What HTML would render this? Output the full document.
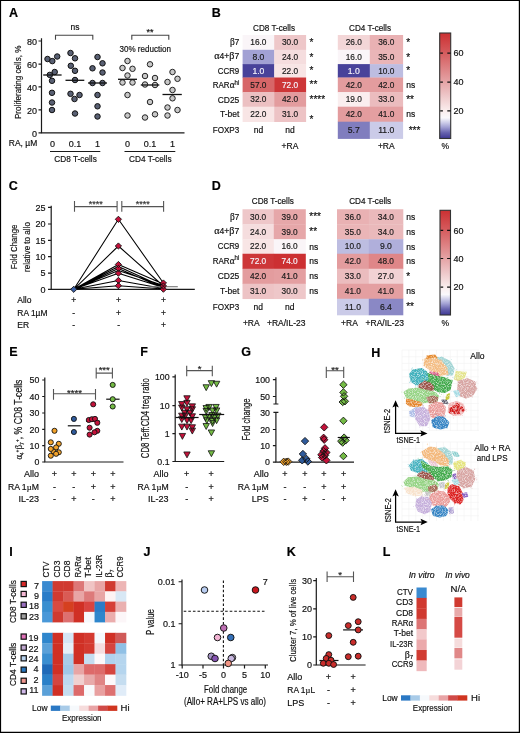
<!DOCTYPE html>
<html><head><meta charset="utf-8">
<style>
html,body{margin:0;padding:0;background:#fff;}
body{width:520px;height:733px;overflow:hidden;position:relative;}
svg{position:absolute;left:0;top:0;will-change:transform;}
text{font-family:"Liberation Sans",sans-serif;fill:#111;stroke:#111;stroke-width:0.18px;}
.ax{stroke:#1a1a1a;stroke-width:1.2;fill:none;}
.br{stroke:#444;stroke-width:1.1;fill:none;}
</style></head><body>
<svg width="520" height="733" viewBox="0 0 520 733">
<rect x="0" y="0" width="520" height="733" fill="#fff"/>
<g fill="#111">
<text x="9" y="17.2" font-size="12.5" style="fill:#000;stroke:#000" font-weight="bold">A</text>
<path class="ax" d="M41.5,38.3 V132.9 H184.5"/>
<path class="ax" d="M38.5,41 H41.5 M38.5,64.1 H41.5 M38.5,86.9 H41.5 M38.5,109.8 H41.5 M38.5,132.9 H41.5"/>
<text x="37.1" y="44.9" font-size="9" text-anchor="end">80</text>
<text x="37.1" y="68.0" font-size="9" text-anchor="end">60</text>
<text x="37.1" y="90.80000000000001" font-size="9" text-anchor="end">40</text>
<text x="37.1" y="113.7" font-size="9" text-anchor="end">20</text>
<text x="37.1" y="136.8" font-size="9" text-anchor="end">0</text>
<text x="0" y="0" font-size="9.3" text-anchor="middle" textLength="73.5" lengthAdjust="spacingAndGlyphs" transform="translate(20.7,82.3) rotate(-90)">Proliferating cells, %</text>
<path class="br" d="M55.5,39.7 V35.2 H92.8 V39.7"/>
<text x="75" y="30" font-size="8.5" text-anchor="middle">ns</text>
<path class="br" d="M131.8,39.7 V35.2 H168.8 V39.7"/>
<text x="150" y="34.8" font-size="9" text-anchor="middle">**</text>
<text x="145.2" y="52.2" font-size="8.5" text-anchor="middle" textLength="51.5" lengthAdjust="spacingAndGlyphs">30% reduction</text>
<g fill="#596073" stroke="#111" stroke-width="1"><circle cx="47.5" cy="59" r="2.75"/><circle cx="52.3" cy="61.1" r="2.75"/><circle cx="57.2" cy="56.5" r="2.75"/><circle cx="54.7" cy="72" r="2.75"/><circle cx="49.8" cy="74.9" r="2.75"/><circle cx="52" cy="80.8" r="2.75"/><circle cx="52" cy="92.8" r="2.75"/><circle cx="52" cy="102.5" r="2.75"/><circle cx="52" cy="110" r="2.75"/><circle cx="70.5" cy="53" r="2.75"/><circle cx="75" cy="58.3" r="2.75"/><circle cx="70.8" cy="65.8" r="2.75"/><circle cx="75" cy="70.8" r="2.75"/><circle cx="75" cy="80" r="2.75"/><circle cx="70.5" cy="93.8" r="2.75"/><circle cx="79.5" cy="95" r="2.75"/><circle cx="74.5" cy="99" r="2.75"/><circle cx="75" cy="113.5" r="2.75"/><circle cx="97.5" cy="57" r="2.75"/><circle cx="102.5" cy="63.3" r="2.75"/><circle cx="92.5" cy="68.3" r="2.75"/><circle cx="102.5" cy="72.5" r="2.75"/><circle cx="92.5" cy="83" r="2.75"/><circle cx="102.5" cy="83" r="2.75"/><circle cx="97.5" cy="95" r="2.75"/><circle cx="97.5" cy="106.3" r="2.75"/><circle cx="97.5" cy="116.5" r="2.75"/></g>
<g fill="#c8c8c8" stroke="#222" stroke-width="1"><circle cx="127.5" cy="61" r="2.75"/><circle cx="122.5" cy="68" r="2.75"/><circle cx="132.5" cy="68.8" r="2.75"/><circle cx="127.5" cy="75.5" r="2.75"/><circle cx="122.5" cy="82.5" r="2.75"/><circle cx="132.5" cy="82.5" r="2.75"/><circle cx="127.5" cy="95" r="2.75"/><circle cx="127.5" cy="115.5" r="2.75"/><circle cx="150" cy="64.3" r="2.75"/><circle cx="145" cy="76" r="2.75"/><circle cx="155" cy="78" r="2.75"/><circle cx="145" cy="84.5" r="2.75"/><circle cx="155" cy="85" r="2.75"/><circle cx="150" cy="102" r="2.75"/><circle cx="145" cy="117.5" r="2.75"/><circle cx="155" cy="114.3" r="2.75"/><circle cx="172.5" cy="72" r="2.75"/><circle cx="177.5" cy="78.8" r="2.75"/><circle cx="167.5" cy="82" r="2.75"/><circle cx="172.5" cy="90" r="2.75"/><circle cx="172.5" cy="98.3" r="2.75"/><circle cx="167.5" cy="107.5" r="2.75"/><circle cx="177.5" cy="110" r="2.75"/><circle cx="167.5" cy="115.5" r="2.75"/></g>
<g stroke="#111" stroke-width="1.3"><line x1="43.2" y1="75" x2="61.6" y2="75"/><line x1="65.5" y1="80.3" x2="84.3" y2="80.3"/><line x1="88" y1="83" x2="107" y2="83"/><line x1="118" y1="79.3" x2="137" y2="79.3"/><line x1="140.8" y1="85" x2="159.3" y2="85"/><line x1="162.5" y1="94.5" x2="181.8" y2="94.5"/></g>
<text x="8.8" y="146.4" font-size="8.5" textLength="28.4" lengthAdjust="spacingAndGlyphs">RA, µM</text>
<text x="52.5" y="146.5" font-size="9" text-anchor="middle">0</text>
<text x="75" y="146.5" font-size="9" text-anchor="middle">0.1</text>
<text x="97.5" y="146.5" font-size="9" text-anchor="middle">1</text>
<text x="127.5" y="146.5" font-size="9" text-anchor="middle">0</text>
<text x="150" y="146.5" font-size="9" text-anchor="middle">0.1</text>
<text x="172.5" y="146.5" font-size="9" text-anchor="middle">1</text>
<path class="ax" d="M50,151.5 H100.3 M124.5,151.5 H175.3"/>
<text x="75.6" y="162.3" font-size="9" text-anchor="middle" textLength="42.5" lengthAdjust="spacingAndGlyphs">CD8 T-cells</text>
<text x="150.3" y="162.3" font-size="9" text-anchor="middle" textLength="42.5" lengthAdjust="spacingAndGlyphs">CD4 T-cells</text>
<text x="211.8" y="17.2" font-size="12.5" style="fill:#000;stroke:#000" font-weight="bold">B</text>
<text x="239.3" y="45.3" font-size="8.5" text-anchor="end" textLength="9.3" lengthAdjust="spacingAndGlyphs"><tspan font-family="Liberation Serif" font-size="10">β</tspan>7</text>
<text x="239.3" y="59.1" font-size="8.5" text-anchor="end" textLength="25" lengthAdjust="spacingAndGlyphs"><tspan font-family="Liberation Serif" font-size="10">α</tspan>4+<tspan font-family="Liberation Serif" font-size="10">β</tspan>7</text>
<text x="239.3" y="74.0" font-size="8.5" text-anchor="end" textLength="21.6" lengthAdjust="spacingAndGlyphs">CCR9</text>
<text x="239.3" y="88.1" font-size="8.5" text-anchor="end" textLength="26.5" lengthAdjust="spacingAndGlyphs">RAR<tspan font-family="Liberation Serif" font-size="10">α</tspan><tspan font-size="6.5" dy="-3.6">hi</tspan></text>
<text x="239.3" y="103.1" font-size="8.5" text-anchor="end" textLength="21.6" lengthAdjust="spacingAndGlyphs">CD25</text>
<text x="239.3" y="117.3" font-size="8.5" text-anchor="end" textLength="19.3" lengthAdjust="spacingAndGlyphs">T-bet</text>
<text x="239.3" y="132.5" font-size="8.5" text-anchor="end" textLength="26.6" lengthAdjust="spacingAndGlyphs">FOXP3</text>
<text x="274" y="30.5" font-size="8.5" text-anchor="middle" textLength="42" lengthAdjust="spacingAndGlyphs">CD8 T-cells</text>
<text x="370" y="30.5" font-size="8.5" text-anchor="middle" textLength="42" lengthAdjust="spacingAndGlyphs">CD4 T-cells</text>
<rect x="242.6" y="35" width="31.90" height="15.10" fill="#faf5f8"/>
<rect x="274.2" y="35" width="31.90" height="15.10" fill="#eec7c9"/>
<rect x="242.6" y="49.8" width="31.90" height="14.60" fill="#a2a1d4"/>
<rect x="274.2" y="49.8" width="31.90" height="14.60" fill="#f5ddde"/>
<rect x="242.6" y="64.1" width="31.90" height="13.70" fill="#48429a"/>
<rect x="274.2" y="64.1" width="31.90" height="13.70" fill="#f8e5e5"/>
<rect x="242.6" y="77.5" width="31.90" height="14.90" fill="#d76668"/>
<rect x="274.2" y="77.5" width="31.90" height="14.90" fill="#cd3638"/>
<rect x="242.6" y="92.1" width="31.90" height="14.90" fill="#ecc0c2"/>
<rect x="274.2" y="92.1" width="31.90" height="14.90" fill="#e39c9e"/>
<rect x="242.6" y="106.7" width="31.90" height="15.30" fill="#f8e5e5"/>
<rect x="274.2" y="106.7" width="31.90" height="15.30" fill="#edc3c5"/>
<text x="258.4" y="133.05" font-size="8.5" text-anchor="middle">nd</text>
<text x="290.0" y="133.05" font-size="8.5" text-anchor="middle">nd</text>
<text x="258.4" y="45.3" font-size="9" text-anchor="middle" style="fill:#1a1a1a;stroke:#1a1a1a" textLength="16.2" lengthAdjust="spacingAndGlyphs">16.0</text>
<text x="290.0" y="45.3" font-size="9" text-anchor="middle" style="fill:#1a1a1a;stroke:#1a1a1a" textLength="16.2" lengthAdjust="spacingAndGlyphs">30.0</text>
<text x="258.4" y="59.849999999999994" font-size="9" text-anchor="middle" style="fill:#1a1a1a;stroke:#1a1a1a" textLength="12.0" lengthAdjust="spacingAndGlyphs">8.0</text>
<text x="290.0" y="59.849999999999994" font-size="9" text-anchor="middle" style="fill:#1a1a1a;stroke:#1a1a1a" textLength="16.2" lengthAdjust="spacingAndGlyphs">24.0</text>
<text x="258.4" y="73.7" font-size="9" text-anchor="middle" style="fill:#f4f2fa;stroke:#f4f2fa" textLength="12.0" lengthAdjust="spacingAndGlyphs">1.0</text>
<text x="290.0" y="73.7" font-size="9" text-anchor="middle" style="fill:#1a1a1a;stroke:#1a1a1a" textLength="16.2" lengthAdjust="spacingAndGlyphs">22.0</text>
<text x="258.4" y="87.7" font-size="9" text-anchor="middle" style="fill:#1a1a1a;stroke:#1a1a1a" textLength="16.2" lengthAdjust="spacingAndGlyphs">57.0</text>
<text x="290.0" y="87.7" font-size="9" text-anchor="middle" style="fill:#f4f2fa;stroke:#f4f2fa" textLength="16.2" lengthAdjust="spacingAndGlyphs">72.0</text>
<text x="258.4" y="102.30000000000001" font-size="9" text-anchor="middle" style="fill:#1a1a1a;stroke:#1a1a1a" textLength="16.2" lengthAdjust="spacingAndGlyphs">32.0</text>
<text x="290.0" y="102.30000000000001" font-size="9" text-anchor="middle" style="fill:#1a1a1a;stroke:#1a1a1a" textLength="16.2" lengthAdjust="spacingAndGlyphs">42.0</text>
<text x="258.4" y="117.10000000000001" font-size="9" text-anchor="middle" style="fill:#1a1a1a;stroke:#1a1a1a" textLength="16.2" lengthAdjust="spacingAndGlyphs">22.0</text>
<text x="290.0" y="117.10000000000001" font-size="9" text-anchor="middle" style="fill:#1a1a1a;stroke:#1a1a1a" textLength="16.2" lengthAdjust="spacingAndGlyphs">31.0</text>
<text x="309.5" y="46.0" font-size="10">*</text>
<text x="309.5" y="60.55" font-size="10">*</text>
<text x="309.5" y="74.39999999999999" font-size="10">*</text>
<text x="309.5" y="88.39999999999999" font-size="10">**</text>
<text x="309.5" y="103.0" font-size="10">****</text>
<text x="309.5" y="123.2" font-size="10">*</text>
<rect x="337.8" y="35" width="32.30" height="15.10" fill="#f3d6d7"/>
<rect x="369.8" y="35" width="33.30" height="15.10" fill="#e9b1b3"/>
<rect x="337.8" y="49.8" width="32.30" height="14.60" fill="#faf5f8"/>
<rect x="369.8" y="49.8" width="33.30" height="14.60" fill="#eab5b7"/>
<rect x="337.8" y="64.1" width="32.30" height="13.70" fill="#48429a"/>
<rect x="369.8" y="64.1" width="33.30" height="13.70" fill="#bdbde1"/>
<rect x="337.8" y="77.5" width="32.30" height="14.90" fill="#e39c9e"/>
<rect x="369.8" y="77.5" width="33.30" height="14.90" fill="#e39c9e"/>
<rect x="337.8" y="92.1" width="32.30" height="14.90" fill="#faeeef"/>
<rect x="369.8" y="92.1" width="33.30" height="14.90" fill="#ebbcbe"/>
<rect x="337.8" y="106.7" width="32.30" height="15.30" fill="#e39c9e"/>
<rect x="369.8" y="106.7" width="33.30" height="15.30" fill="#e49fa1"/>
<rect x="337.8" y="121.7" width="32.30" height="17.20" fill="#807dbe"/>
<rect x="369.8" y="121.7" width="33.30" height="17.20" fill="#cbcbe8"/>
<text x="353.8" y="45.3" font-size="9" text-anchor="middle" style="fill:#1a1a1a;stroke:#1a1a1a" textLength="16.2" lengthAdjust="spacingAndGlyphs">26.0</text>
<text x="386.3" y="45.3" font-size="9" text-anchor="middle" style="fill:#1a1a1a;stroke:#1a1a1a" textLength="16.2" lengthAdjust="spacingAndGlyphs">36.0</text>
<text x="353.8" y="59.849999999999994" font-size="9" text-anchor="middle" style="fill:#1a1a1a;stroke:#1a1a1a" textLength="16.2" lengthAdjust="spacingAndGlyphs">16.0</text>
<text x="386.3" y="59.849999999999994" font-size="9" text-anchor="middle" style="fill:#1a1a1a;stroke:#1a1a1a" textLength="16.2" lengthAdjust="spacingAndGlyphs">35.0</text>
<text x="353.8" y="73.7" font-size="9" text-anchor="middle" style="fill:#f4f2fa;stroke:#f4f2fa" textLength="12.0" lengthAdjust="spacingAndGlyphs">1.0</text>
<text x="386.3" y="73.7" font-size="9" text-anchor="middle" style="fill:#1a1a1a;stroke:#1a1a1a" textLength="16.2" lengthAdjust="spacingAndGlyphs">10.0</text>
<text x="353.8" y="87.7" font-size="9" text-anchor="middle" style="fill:#1a1a1a;stroke:#1a1a1a" textLength="16.2" lengthAdjust="spacingAndGlyphs">42.0</text>
<text x="386.3" y="87.7" font-size="9" text-anchor="middle" style="fill:#1a1a1a;stroke:#1a1a1a" textLength="16.2" lengthAdjust="spacingAndGlyphs">42.0</text>
<text x="353.8" y="102.30000000000001" font-size="9" text-anchor="middle" style="fill:#1a1a1a;stroke:#1a1a1a" textLength="16.2" lengthAdjust="spacingAndGlyphs">19.0</text>
<text x="386.3" y="102.30000000000001" font-size="9" text-anchor="middle" style="fill:#1a1a1a;stroke:#1a1a1a" textLength="16.2" lengthAdjust="spacingAndGlyphs">33.0</text>
<text x="353.8" y="117.10000000000001" font-size="9" text-anchor="middle" style="fill:#1a1a1a;stroke:#1a1a1a" textLength="16.2" lengthAdjust="spacingAndGlyphs">42.0</text>
<text x="386.3" y="117.10000000000001" font-size="9" text-anchor="middle" style="fill:#1a1a1a;stroke:#1a1a1a" textLength="16.2" lengthAdjust="spacingAndGlyphs">41.0</text>
<text x="353.8" y="133.05" font-size="9" text-anchor="middle" style="fill:#1a1a1a;stroke:#1a1a1a" textLength="12.0" lengthAdjust="spacingAndGlyphs">5.7</text>
<text x="386.3" y="133.05" font-size="9" text-anchor="middle" style="fill:#1a1a1a;stroke:#1a1a1a" textLength="16.2" lengthAdjust="spacingAndGlyphs">11.0</text>
<text x="406.2" y="46.0" font-size="10">*</text>
<text x="406.2" y="60.55" font-size="10">*</text>
<text x="406.2" y="74.39999999999999" font-size="10">*</text>
<text x="406.2" y="87.8" font-size="8.5">ns</text>
<text x="406.2" y="103.0" font-size="10">**</text>
<text x="406.2" y="117.2" font-size="8.5">ns</text>
<text x="408.7" y="133.6" font-size="10">***</text>
<text x="290" y="149" font-size="8.5" text-anchor="middle">+RA</text>
<text x="386.3" y="149" font-size="8.5" text-anchor="middle">+RA</text>
<defs><linearGradient id="gB" x1="0" y1="1" x2="0" y2="0"><stop offset="0.0000" stop-color="#3e3894"/><stop offset="0.0541" stop-color="#6662ae"/><stop offset="0.1081" stop-color="#a2a1d4"/><stop offset="0.1486" stop-color="#cbcbe8"/><stop offset="0.1959" stop-color="#faf9fc"/><stop offset="0.2703" stop-color="#faecec"/><stop offset="0.4054" stop-color="#eec7c9"/><stop offset="0.5405" stop-color="#e5a3a5"/><stop offset="0.6757" stop-color="#dd7f81"/><stop offset="0.8108" stop-color="#d55c5e"/><stop offset="1.0000" stop-color="#cc3032"/></linearGradient></defs>
<rect x="439.7" y="33" width="11.0" height="105.5" fill="url(#gB)" stroke="#333" stroke-width="1.1"/>
<path d="M440.2,53.2 H442.9 M447.3,53.2 H450.7" stroke="#111" stroke-width="1.2"/>
<text x="453.59999999999997" y="56.400000000000006" font-size="9">60</text>
<path d="M440.2,82.1 H442.9 M447.3,82.1 H450.7" stroke="#111" stroke-width="1.2"/>
<text x="453.59999999999997" y="85.3" font-size="9">40</text>
<path d="M440.2,110.8 H442.9 M447.3,110.8 H450.7" stroke="#111" stroke-width="1.2"/>
<text x="453.59999999999997" y="114.0" font-size="9">20</text>
<text x="445.2" y="149" font-size="8.5" text-anchor="middle">%</text>
<text x="8.8" y="190.2" font-size="12.5" style="fill:#000;stroke:#000" font-weight="bold">C</text>
<path class="ax" d="M51.2,205.8 V289.4 H194.8"/>
<path class="ax" d="M48,207.4 H51.2 M48,224 H51.2 M48,240.4 H51.2 M48,256.7 H51.2 M48,273.2 H51.2 M48,289.4 H51.2"/>
<text x="45.5" y="210.6" font-size="9" text-anchor="end">25</text>
<text x="45.5" y="227.2" font-size="9" text-anchor="end">20</text>
<text x="45.5" y="243.6" font-size="9" text-anchor="end">15</text>
<text x="45.5" y="259.9" font-size="9" text-anchor="end">10</text>
<text x="45.5" y="276.4" font-size="9" text-anchor="end">5</text>
<text x="45.5" y="292.59999999999997" font-size="9" text-anchor="end">0</text>
<text x="0" y="0" font-size="9.3" text-anchor="middle" textLength="44.7" lengthAdjust="spacingAndGlyphs" transform="translate(17.0,247) rotate(-90)">Fold Change</text>
<text x="0" y="0" font-size="9.3" text-anchor="middle" textLength="49.9" lengthAdjust="spacingAndGlyphs" transform="translate(30.0,247) rotate(-90)">relative to allo</text>
<path d="M74.5,206.6 H117.1 M74.5,201.1 V211.8 M117.1,201.1 V211.8 M121.8,206.6 H163.6 M121.8,201.1 V211.8 M163.6,201.1 V211.8" stroke="#555" stroke-width="1.1" fill="none"/>
<text x="95.7" y="207.2" font-size="9" text-anchor="middle" style="fill:#333;stroke:#333">****</text>
<text x="142.8" y="207.2" font-size="9" text-anchor="middle" style="fill:#333;stroke:#333">****</text>
<path d="M73.75,289.3 L118.4,219.3 L163.4,283 M73.75,289.3 L118.4,246 L163.4,286 M73.75,289.3 L118.4,264.5 L163.4,284 M73.75,289.3 L118.4,266.5 L163.4,287 M73.75,289.3 L118.4,268.4 L163.4,288 M73.75,289.3 L118.4,270.5 L163.4,285.5 M73.75,289.3 L118.4,273.2 L163.4,287.5 M73.75,289.3 L118.4,280.4 L163.4,288.5 M73.75,289.3 L118.4,285.7 L163.4,289" stroke="#000" stroke-width="1.05" fill="none" stroke-linejoin="round"/>
<line x1="149" y1="286.7" x2="177.8" y2="286.7" stroke="#777" stroke-width="1.1"/>
<path d="M73.75,286.2 L76.85,289.3 L73.75,292.40000000000003 L70.65,289.3 Z" fill="#3d62a8" stroke="#111" stroke-width="0.9"/>
<path d="M118.4,216.20000000000002 L121.5,219.3 L118.4,222.4 L115.30000000000001,219.3 Z M118.4,242.9 L121.5,246 L118.4,249.1 L115.30000000000001,246 Z M118.4,261.4 L121.5,264.5 L118.4,267.6 L115.30000000000001,264.5 Z M118.4,265.29999999999995 L121.5,268.4 L118.4,271.5 L115.30000000000001,268.4 Z M118.4,270.09999999999997 L121.5,273.2 L118.4,276.3 L115.30000000000001,273.2 Z M118.4,277.29999999999995 L121.5,280.4 L118.4,283.5 L115.30000000000001,280.4 Z M118.4,282.59999999999997 L121.5,285.7 L118.4,288.8 L115.30000000000001,285.7 Z M163.4,279.9 L166.5,283 L163.4,286.1 L160.3,283 Z M163.4,282.9 L166.5,286 L163.4,289.1 L160.3,286 Z M163.4,286.09999999999997 L166.5,289.2 L163.4,292.3 L160.3,289.2 Z" fill="#c4103a" stroke="#111" stroke-width="0.9"/>
<text x="17.3" y="303.4" font-size="8.5">Allo</text>
<text x="17.3" y="315.6" font-size="8.5" textLength="30.2" lengthAdjust="spacingAndGlyphs">RA 1µM</text>
<text x="17.3" y="327.8" font-size="8.5">ER</text>
<text x="73.75" y="303.4" font-size="8.5" text-anchor="middle">+</text>
<text x="118.6" y="303.4" font-size="8.5" text-anchor="middle">+</text>
<text x="163.4" y="303.4" font-size="8.5" text-anchor="middle">+</text>
<text x="73.75" y="315.6" font-size="8.5" text-anchor="middle">-</text>
<text x="118.6" y="315.6" font-size="8.5" text-anchor="middle">+</text>
<text x="163.4" y="315.6" font-size="8.5" text-anchor="middle">+</text>
<text x="73.75" y="327.8" font-size="8.5" text-anchor="middle">-</text>
<text x="118.6" y="327.8" font-size="8.5" text-anchor="middle">-</text>
<text x="163.4" y="327.8" font-size="8.5" text-anchor="middle">+</text>
<text x="211.8" y="190.2" font-size="12.5" style="fill:#000;stroke:#000" font-weight="bold">D</text>
<text x="239.3" y="219.5" font-size="8.5" text-anchor="end" textLength="9.3" lengthAdjust="spacingAndGlyphs"><tspan font-family="Liberation Serif" font-size="10">β</tspan>7</text>
<text x="239.3" y="233.75" font-size="8.5" text-anchor="end" textLength="25" lengthAdjust="spacingAndGlyphs"><tspan font-family="Liberation Serif" font-size="10">α</tspan>4+<tspan font-family="Liberation Serif" font-size="10">β</tspan>7</text>
<text x="239.3" y="248.75" font-size="8.5" text-anchor="end" textLength="21.6" lengthAdjust="spacingAndGlyphs">CCR9</text>
<text x="239.3" y="263.75" font-size="8.5" text-anchor="end" textLength="26.5" lengthAdjust="spacingAndGlyphs">RAR<tspan font-family="Liberation Serif" font-size="10">α</tspan><tspan font-size="6.5" dy="-3.6">hi</tspan></text>
<text x="239.3" y="278.75" font-size="8.5" text-anchor="end" textLength="21.6" lengthAdjust="spacingAndGlyphs">CD25</text>
<text x="239.3" y="293.75" font-size="8.5" text-anchor="end" textLength="19.3" lengthAdjust="spacingAndGlyphs">T-bet</text>
<text x="239.3" y="309.6" font-size="8.5" text-anchor="end" textLength="26.6" lengthAdjust="spacingAndGlyphs">FOXP3</text>
<text x="272.8" y="204" font-size="8.5" text-anchor="middle" textLength="42" lengthAdjust="spacingAndGlyphs">CD8 T-cells</text>
<text x="370.2" y="204" font-size="8.5" text-anchor="middle" textLength="42" lengthAdjust="spacingAndGlyphs">CD4 T-cells</text>
<rect x="242.5" y="209.25" width="31.60" height="15.30" fill="#eec7c9"/>
<rect x="273.8" y="209.25" width="32.00" height="15.30" fill="#e6a7a9"/>
<rect x="242.5" y="224.25" width="31.60" height="15.30" fill="#f5ddde"/>
<rect x="273.8" y="224.25" width="32.00" height="15.30" fill="#e6a7a9"/>
<rect x="242.5" y="239.25" width="31.60" height="14.80" fill="#f8e5e5"/>
<rect x="273.8" y="239.25" width="32.00" height="14.80" fill="#faf5f8"/>
<rect x="242.5" y="253.75" width="31.60" height="15.30" fill="#cd3638"/>
<rect x="273.8" y="253.75" width="32.00" height="15.30" fill="#cc3032"/>
<rect x="242.5" y="268.75" width="31.60" height="15.30" fill="#e39c9e"/>
<rect x="273.8" y="268.75" width="32.00" height="15.30" fill="#e49fa1"/>
<rect x="242.5" y="283.75" width="31.60" height="15.30" fill="#edc3c5"/>
<rect x="273.8" y="283.75" width="32.00" height="15.30" fill="#eec7c9"/>
<text x="258.15" y="309.775" font-size="8.5" text-anchor="middle">nd</text>
<text x="289.65" y="309.775" font-size="8.5" text-anchor="middle">nd</text>
<text x="258.15" y="219.65" font-size="9" text-anchor="middle" style="fill:#1a1a1a;stroke:#1a1a1a" textLength="16.2" lengthAdjust="spacingAndGlyphs">30.0</text>
<text x="289.65" y="219.65" font-size="9" text-anchor="middle" style="fill:#1a1a1a;stroke:#1a1a1a" textLength="16.2" lengthAdjust="spacingAndGlyphs">39.0</text>
<text x="258.15" y="234.65" font-size="9" text-anchor="middle" style="fill:#1a1a1a;stroke:#1a1a1a" textLength="16.2" lengthAdjust="spacingAndGlyphs">24.0</text>
<text x="289.65" y="234.65" font-size="9" text-anchor="middle" style="fill:#1a1a1a;stroke:#1a1a1a" textLength="16.2" lengthAdjust="spacingAndGlyphs">39.0</text>
<text x="258.15" y="249.4" font-size="9" text-anchor="middle" style="fill:#1a1a1a;stroke:#1a1a1a" textLength="16.2" lengthAdjust="spacingAndGlyphs">22.0</text>
<text x="289.65" y="249.4" font-size="9" text-anchor="middle" style="fill:#1a1a1a;stroke:#1a1a1a" textLength="16.2" lengthAdjust="spacingAndGlyphs">16.0</text>
<text x="258.15" y="264.15" font-size="9" text-anchor="middle" style="fill:#f4f2fa;stroke:#f4f2fa" textLength="16.2" lengthAdjust="spacingAndGlyphs">72.0</text>
<text x="289.65" y="264.15" font-size="9" text-anchor="middle" style="fill:#f4f2fa;stroke:#f4f2fa" textLength="16.2" lengthAdjust="spacingAndGlyphs">74.0</text>
<text x="258.15" y="279.15" font-size="9" text-anchor="middle" style="fill:#1a1a1a;stroke:#1a1a1a" textLength="16.2" lengthAdjust="spacingAndGlyphs">42.0</text>
<text x="289.65" y="279.15" font-size="9" text-anchor="middle" style="fill:#1a1a1a;stroke:#1a1a1a" textLength="16.2" lengthAdjust="spacingAndGlyphs">41.0</text>
<text x="258.15" y="294.15" font-size="9" text-anchor="middle" style="fill:#1a1a1a;stroke:#1a1a1a" textLength="16.2" lengthAdjust="spacingAndGlyphs">31.0</text>
<text x="289.65" y="294.15" font-size="9" text-anchor="middle" style="fill:#1a1a1a;stroke:#1a1a1a" textLength="16.2" lengthAdjust="spacingAndGlyphs">30.0</text>
<text x="309.3" y="220.35" font-size="10">***</text>
<text x="309.3" y="235.35" font-size="10">**</text>
<text x="309.3" y="249.5" font-size="8.5">ns</text>
<text x="309.3" y="264.25" font-size="8.5">ns</text>
<text x="309.3" y="279.25" font-size="8.5">ns</text>
<text x="309.3" y="294.25" font-size="8.5">ns</text>
<rect x="337" y="209.25" width="32.10" height="15.30" fill="#e9b1b3"/>
<rect x="368.8" y="209.25" width="34.50" height="15.30" fill="#eab9bb"/>
<rect x="337" y="224.25" width="32.10" height="15.30" fill="#eab5b7"/>
<rect x="368.8" y="224.25" width="34.50" height="15.30" fill="#eab9bb"/>
<rect x="337" y="239.25" width="32.10" height="14.80" fill="#bdbde1"/>
<rect x="368.8" y="239.25" width="34.50" height="14.80" fill="#b0afdb"/>
<rect x="337" y="253.75" width="32.10" height="15.30" fill="#e39c9e"/>
<rect x="368.8" y="253.75" width="34.50" height="15.30" fill="#df8688"/>
<rect x="337" y="268.75" width="32.10" height="15.30" fill="#ebbcbe"/>
<rect x="368.8" y="268.75" width="34.50" height="15.30" fill="#f2d2d4"/>
<rect x="337" y="283.75" width="32.10" height="15.30" fill="#e49fa1"/>
<rect x="368.8" y="283.75" width="34.50" height="15.30" fill="#e49fa1"/>
<rect x="337" y="298.75" width="32.10" height="16.55" fill="#cbcbe8"/>
<rect x="368.8" y="298.75" width="34.50" height="16.55" fill="#8a88c5"/>
<text x="352.9" y="219.65" font-size="9" text-anchor="middle" style="fill:#1a1a1a;stroke:#1a1a1a" textLength="16.2" lengthAdjust="spacingAndGlyphs">36.0</text>
<text x="385.9" y="219.65" font-size="9" text-anchor="middle" style="fill:#1a1a1a;stroke:#1a1a1a" textLength="16.2" lengthAdjust="spacingAndGlyphs">34.0</text>
<text x="352.9" y="234.65" font-size="9" text-anchor="middle" style="fill:#1a1a1a;stroke:#1a1a1a" textLength="16.2" lengthAdjust="spacingAndGlyphs">35.0</text>
<text x="385.9" y="234.65" font-size="9" text-anchor="middle" style="fill:#1a1a1a;stroke:#1a1a1a" textLength="16.2" lengthAdjust="spacingAndGlyphs">34.0</text>
<text x="352.9" y="249.4" font-size="9" text-anchor="middle" style="fill:#1a1a1a;stroke:#1a1a1a" textLength="16.2" lengthAdjust="spacingAndGlyphs">10.0</text>
<text x="385.9" y="249.4" font-size="9" text-anchor="middle" style="fill:#1a1a1a;stroke:#1a1a1a" textLength="12.0" lengthAdjust="spacingAndGlyphs">9.0</text>
<text x="352.9" y="264.15" font-size="9" text-anchor="middle" style="fill:#1a1a1a;stroke:#1a1a1a" textLength="16.2" lengthAdjust="spacingAndGlyphs">42.0</text>
<text x="385.9" y="264.15" font-size="9" text-anchor="middle" style="fill:#1a1a1a;stroke:#1a1a1a" textLength="16.2" lengthAdjust="spacingAndGlyphs">48.0</text>
<text x="352.9" y="279.15" font-size="9" text-anchor="middle" style="fill:#1a1a1a;stroke:#1a1a1a" textLength="16.2" lengthAdjust="spacingAndGlyphs">33.0</text>
<text x="385.9" y="279.15" font-size="9" text-anchor="middle" style="fill:#1a1a1a;stroke:#1a1a1a" textLength="16.2" lengthAdjust="spacingAndGlyphs">27.0</text>
<text x="352.9" y="294.15" font-size="9" text-anchor="middle" style="fill:#1a1a1a;stroke:#1a1a1a" textLength="16.2" lengthAdjust="spacingAndGlyphs">41.0</text>
<text x="385.9" y="294.15" font-size="9" text-anchor="middle" style="fill:#1a1a1a;stroke:#1a1a1a" textLength="16.2" lengthAdjust="spacingAndGlyphs">41.0</text>
<text x="352.9" y="309.775" font-size="9" text-anchor="middle" style="fill:#1a1a1a;stroke:#1a1a1a" textLength="16.2" lengthAdjust="spacingAndGlyphs">11.0</text>
<text x="385.9" y="309.775" font-size="9" text-anchor="middle" style="fill:#1a1a1a;stroke:#1a1a1a" textLength="12.0" lengthAdjust="spacingAndGlyphs">6.4</text>
<text x="406.2" y="219.75" font-size="8.5">ns</text>
<text x="406.2" y="234.75" font-size="8.5">ns</text>
<text x="406.2" y="249.5" font-size="8.5">ns</text>
<text x="406.2" y="264.25" font-size="8.5">ns</text>
<text x="406.2" y="279.85" font-size="10">*</text>
<text x="406.2" y="294.25" font-size="8.5">ns</text>
<text x="406.2" y="310.475" font-size="10">**</text>
<text x="251.3" y="325.8" font-size="8.5" text-anchor="middle">+RA</text>
<text x="286.2" y="325.8" font-size="8.5" text-anchor="middle">+RA/IL-23</text>
<text x="349.5" y="325.8" font-size="8.5" text-anchor="middle">+RA</text>
<text x="384.8" y="325.8" font-size="8.5" text-anchor="middle">+RA/IL-23</text>
<defs><linearGradient id="gD" x1="0" y1="1" x2="0" y2="0"><stop offset="0.0000" stop-color="#3e3894"/><stop offset="0.0541" stop-color="#6662ae"/><stop offset="0.1081" stop-color="#a2a1d4"/><stop offset="0.1486" stop-color="#cbcbe8"/><stop offset="0.1959" stop-color="#faf9fc"/><stop offset="0.2703" stop-color="#faecec"/><stop offset="0.4054" stop-color="#eec7c9"/><stop offset="0.5405" stop-color="#e5a3a5"/><stop offset="0.6757" stop-color="#dd7f81"/><stop offset="0.8108" stop-color="#d55c5e"/><stop offset="1.0000" stop-color="#cc3032"/></linearGradient></defs>
<rect x="440" y="210.3" width="10.5" height="104.69999999999999" fill="url(#gD)" stroke="#333" stroke-width="1.1"/>
<path d="M440.5,230.4 H443.2 M447.1,230.4 H450.5" stroke="#111" stroke-width="1.2"/>
<text x="453.4" y="233.6" font-size="9">60</text>
<path d="M440.5,258.5 H443.2 M447.1,258.5 H450.5" stroke="#111" stroke-width="1.2"/>
<text x="453.4" y="261.7" font-size="9">40</text>
<path d="M440.5,287.1 H443.2 M447.1,287.1 H450.5" stroke="#111" stroke-width="1.2"/>
<text x="453.4" y="290.3" font-size="9">20</text>
<text x="445.2" y="325.6" font-size="8.5" text-anchor="middle">%</text>
<text x="9.3" y="356.4" font-size="12.5" style="fill:#000;stroke:#000" font-weight="bold">E</text>
<path class="ax" d="M44.8,377.6 V462 H123.5"/>
<path class="ax" d="M42.2,380 H44.8 M42.2,396.5 H44.8 M42.2,413 H44.8 M42.2,429.4 H44.8 M42.2,445.6 H44.8 M42.2,462 H44.8"/>
<text x="39.4" y="383.1" font-size="8.8" text-anchor="end">50</text>
<text x="39.4" y="399.6" font-size="8.8" text-anchor="end">40</text>
<text x="39.4" y="416.1" font-size="8.8" text-anchor="end">30</text>
<text x="39.4" y="432.5" font-size="8.8" text-anchor="end">20</text>
<text x="39.4" y="448.70000000000005" font-size="8.8" text-anchor="end">10</text>
<text x="39.4" y="465.1" font-size="8.8" text-anchor="end">0</text>
<text x="0" y="0" font-size="10" text-anchor="middle" textLength="80" lengthAdjust="spacingAndGlyphs" transform="translate(22.2,419.6) rotate(-90)"><tspan font-family="Liberation Serif" font-size="10">α</tspan><tspan font-size="5.5" dy="2">4</tspan><tspan font-size="6" dy="-5.5">+</tspan><tspan font-family="Liberation Serif" font-size="10" dy="3.5">β</tspan><tspan font-size="5.5" dy="2">7</tspan><tspan font-size="6" dy="-5.5">+</tspan><tspan dy="3.5">, % CD8 T-cells</tspan></text>
<path d="M53.5,393.8 H95.5 M53.5,388.9 V399.7 M95.5,388.9 V399.7" stroke="#555" stroke-width="1.1" fill="none"/>
<text x="74.5" y="395.6" font-size="9.5" text-anchor="middle" style="fill:#222;stroke:#222">****</text>
<path d="M96.2,373.1 H112.4 M96.2,367.7 V378.5 M112.4,367.7 V378.5" stroke="#555" stroke-width="1.1" fill="none"/>
<text x="104.2" y="372.5" font-size="9.5" text-anchor="middle" style="fill:#222;stroke:#222">***</text>
<g stroke="#111" stroke-width="1.2"><line x1="67.8" y1="425.8" x2="80.7" y2="425.8"/><line x1="86" y1="421.2" x2="100" y2="421.2"/><line x1="106.2" y1="399.2" x2="119.6" y2="399.2"/></g>
<g fill="#f2a22a" stroke="#111" stroke-width="0.9"><circle cx="53.5" cy="451.5" r="2.55"/><circle cx="54.5" cy="430.8" r="2.55"/><circle cx="50.8" cy="442.3" r="2.55"/><circle cx="58.8" cy="443.8" r="2.55"/><circle cx="56.1" cy="447.4" r="2.55"/><circle cx="50.8" cy="448.9" r="2.55"/><circle cx="58.8" cy="452.3" r="2.55"/><circle cx="56.1" cy="453.8" r="2.55"/><circle cx="50.8" cy="455.7" r="2.55"/></g>
<g fill="#2f5b9c" stroke="#111" stroke-width="0.9"><circle cx="73.9" cy="418.9" r="2.55"/><circle cx="73.9" cy="432" r="2.55"/></g>
<g fill="#c3123a" stroke="#111" stroke-width="0.9"><circle cx="93.2" cy="404.3" r="2.55"/><circle cx="88.8" cy="420" r="2.55"/><circle cx="91.9" cy="419.2" r="2.55"/><circle cx="95" cy="418.9" r="2.55"/><circle cx="97.3" cy="422.8" r="2.55"/><circle cx="89.6" cy="427.7" r="2.55"/><circle cx="97.3" cy="430.8" r="2.55"/><circle cx="94.5" cy="432.3" r="2.55"/><circle cx="89.6" cy="434.6" r="2.55"/></g>
<g fill="#74bb45" stroke="#111" stroke-width="0.9"><circle cx="112.7" cy="384.9" r="2.55"/><circle cx="112.7" cy="399.2" r="2.55"/><circle cx="112.7" cy="406.5" r="2.55"/></g>
<text x="38.9" y="476.6" font-size="9" text-anchor="end">Allo</text>
<text x="38.9" y="489.6" font-size="9" text-anchor="end" textLength="31" lengthAdjust="spacingAndGlyphs">RA 1<tspan font-family="Liberation Serif">µ</tspan>M</text>
<text x="38.9" y="502.2" font-size="9" text-anchor="end">IL-23</text>
<text x="54.5" y="476.6" font-size="9" text-anchor="middle">+</text>
<text x="73.8" y="476.6" font-size="9" text-anchor="middle">+</text>
<text x="93.3" y="476.6" font-size="9" text-anchor="middle">+</text>
<text x="113" y="476.6" font-size="9" text-anchor="middle">+</text>
<text x="54.5" y="489.6" font-size="9" text-anchor="middle">-</text>
<text x="73.8" y="489.6" font-size="9" text-anchor="middle">-</text>
<text x="93.3" y="489.6" font-size="9" text-anchor="middle">+</text>
<text x="113" y="489.6" font-size="9" text-anchor="middle">+</text>
<text x="54.5" y="502.2" font-size="9" text-anchor="middle">-</text>
<text x="73.8" y="502.2" font-size="9" text-anchor="middle">+</text>
<text x="93.3" y="502.2" font-size="9" text-anchor="middle">-</text>
<text x="113" y="502.2" font-size="9" text-anchor="middle">+</text>
<text x="140.3" y="356.4" font-size="12.5" style="fill:#000;stroke:#000" font-weight="bold">F</text>
<path class="ax" d="M175.2,374.4 V461.5 H224.2"/>
<path class="ax" d="M172.4,376.9 H175.2 M172.4,405.6 H175.2 M172.4,433.7 H175.2 M172.4,461.5 H175.2"/>
<text x="169.6" y="380.0" font-size="8.8" text-anchor="end">100</text>
<text x="169.6" y="408.70000000000005" font-size="8.8" text-anchor="end">10</text>
<text x="169.6" y="436.8" font-size="8.8" text-anchor="end">1</text>
<text x="169.6" y="464.6" font-size="8.8" text-anchor="end">0.1</text>
<text x="0" y="0" font-size="10" text-anchor="middle" textLength="80" lengthAdjust="spacingAndGlyphs" transform="translate(149.0,418.2) rotate(-90)">CD8 Teff:CD4 treg ratio</text>
<path d="M186.7,370.6 H212.3 M186.7,365.8 V376.3 M212.3,365.8 V376.3" stroke="#555" stroke-width="1.1" fill="none"/>
<text x="199.6" y="372" font-size="9.5" text-anchor="middle" style="fill:#222;stroke:#222">*</text>
<path d="M183.80,395.75 H190.20 L187.00,401.65 Z M178.60,401.55 H185.00 L181.80,407.45 Z M183.80,400.35 H190.20 L187.00,406.25 Z M189.10,403.85 H195.50 L192.30,409.75 Z M178.60,405.05 H185.00 L181.80,410.95 Z M183.80,406.75 H190.20 L187.00,412.65 Z M189.10,406.75 H195.50 L192.30,412.65 Z M181.50,410.25 H187.90 L184.70,416.15 Z M186.80,410.25 H193.20 L190.00,416.15 Z M178.60,413.15 H185.00 L181.80,419.05 Z M182.10,413.15 H188.50 L185.30,419.05 Z M189.10,413.75 H195.50 L192.30,419.65 Z M178.60,416.65 H185.00 L181.80,422.55 Z M183.80,417.75 H190.20 L187.00,423.65 Z M187.90,417.75 H194.30 L191.10,423.65 Z M178.60,424.15 H185.00 L181.80,430.05 Z M183.80,424.15 H190.20 L187.00,430.05 Z M189.10,424.75 H195.50 L192.30,430.65 Z M189.10,428.15 H195.50 L192.30,434.05 Z M179.20,433.45 H185.60 L182.40,439.35 Z M183.80,451.95 H190.20 L187.00,457.85 Z" fill="#c3123a" stroke="#111" stroke-width="0.8" stroke-linejoin="round"/>
<path d="M203.00,384.75 H209.40 L206.20,390.65 Z M208.20,380.65 H214.60 L211.40,386.55 Z M213.40,381.25 H219.80 L216.60,387.15 Z M203.00,405.55 H209.40 L206.20,411.45 Z M205.90,404.45 H212.30 L209.10,410.35 Z M212.80,404.45 H219.20 L216.00,410.35 Z M203.00,408.45 H209.40 L206.20,414.35 Z M209.40,407.95 H215.80 L212.60,413.85 Z M213.40,407.95 H219.80 L216.60,413.85 Z M202.40,414.85 H208.80 L205.60,420.75 Z M205.90,414.25 H212.30 L209.10,420.15 Z M211.10,414.85 H217.50 L214.30,420.75 Z M214.60,413.15 H221.00 L217.80,419.05 Z M208.80,412.55 H215.20 L212.00,418.45 Z M203.60,417.75 H210.00 L206.80,423.65 Z M209.40,418.35 H215.80 L212.60,424.25 Z M213.40,417.75 H219.80 L216.60,423.65 Z M209.40,420.65 H215.80 L212.60,426.55 Z M203.00,423.55 H209.40 L206.20,429.45 Z M208.20,429.95 H214.60 L211.40,435.85 Z M208.20,450.75 H214.60 L211.40,456.65 Z" fill="#74bb45" stroke="#111" stroke-width="0.8" stroke-linejoin="round"/>
<g stroke="#111" stroke-width="1.2"><line x1="175.5" y1="417.5" x2="198.6" y2="417.5"/><line x1="199.2" y1="414.5" x2="224.2" y2="414.5"/></g>
<text x="168.6" y="476.6" font-size="9" text-anchor="end">Allo</text>
<text x="168.6" y="489.6" font-size="9" text-anchor="end" textLength="31" lengthAdjust="spacingAndGlyphs">RA 1<tspan font-family="Liberation Serif">µ</tspan>M</text>
<text x="168.6" y="502.2" font-size="9" text-anchor="end">IL-23</text>
<text x="186.7" y="476.6" font-size="9" text-anchor="middle">+</text>
<text x="211.2" y="476.6" font-size="9" text-anchor="middle">+</text>
<text x="186.7" y="489.6" font-size="9" text-anchor="middle">-</text>
<text x="211.2" y="489.6" font-size="9" text-anchor="middle">+</text>
<text x="186.7" y="502.2" font-size="9" text-anchor="middle">-</text>
<text x="211.2" y="502.2" font-size="9" text-anchor="middle">+</text>
<text x="241.2" y="356.4" font-size="12.5" style="fill:#000;stroke:#000" font-weight="bold">G</text>
<path class="ax" d="M275.9,377.3 V404 M273.4,404 H278.4 M273.4,412.4 H278.4 M275.9,412.4 V462.2 H354"/>
<path class="ax" d="M272.9,379.7 H275.9 M272.9,396.5 H275.9 M272.9,429.5 H275.9 M272.9,445.6 H275.9 M272.9,462.2 H275.9"/>
<text x="270.0" y="382.8" font-size="8.8" text-anchor="end">100</text>
<text x="270.0" y="399.6" font-size="8.8" text-anchor="end">50</text>
<text x="270.0" y="415.70000000000005" font-size="8.8" text-anchor="end">30</text>
<text x="270.0" y="432.6" font-size="8.8" text-anchor="end">20</text>
<text x="270.0" y="448.70000000000005" font-size="8.8" text-anchor="end">10</text>
<text x="270.0" y="465.3" font-size="8.8" text-anchor="end">0</text>
<text x="0" y="0" font-size="10" text-anchor="middle" textLength="42" lengthAdjust="spacingAndGlyphs" transform="translate(249.6,419.5) rotate(-90)">Fold change</text>
<path d="M326.3,370.8 H343.7 M326.3,366.7 V378 M343.7,366.7 V378" stroke="#555" stroke-width="1.1" fill="none"/>
<text x="335" y="372.6" font-size="9.5" text-anchor="middle" style="fill:#222;stroke:#222">**</text>
<path d="M288.20,457.90 L291.90,461.60 L288.20,465.30 L284.50,461.60 Z M283.70,458.10 L287.40,461.80 L283.70,465.50 L280.00,461.80 Z M286.30,458.10 L290.00,461.80 L286.30,465.50 L282.60,461.80 Z" fill="#f2a22a" stroke="#111" stroke-width="0.85"/>
<path d="M305.00,437.40 L308.70,441.10 L305.00,444.80 L301.30,441.10 Z M302.90,450.30 L306.60,454.00 L302.90,457.70 L299.20,454.00 Z M306.40,455.20 L310.10,458.90 L306.40,462.60 L302.70,458.90 Z M302.20,456.60 L305.90,460.30 L302.20,464.00 L298.50,460.30 Z M307.90,457.80 L311.60,461.50 L307.90,465.20 L304.20,461.50 Z" fill="#2f5b9c" stroke="#111" stroke-width="0.85"/>
<path d="M324.20,423.60 L327.90,427.30 L324.20,431.00 L320.50,427.30 Z M323.60,434.10 L327.30,437.80 L323.60,441.50 L319.90,437.80 Z M324.20,436.00 L327.90,439.70 L324.20,443.40 L320.50,439.70 Z M325.00,444.60 L328.70,448.30 L325.00,452.00 L321.30,448.30 Z M323.50,447.40 L327.20,451.10 L323.50,454.80 L319.80,451.10 Z M326.40,448.80 L330.10,452.50 L326.40,456.20 L322.70,452.50 Z M321.40,451.00 L325.10,454.70 L321.40,458.40 L317.70,454.70 Z M325.00,451.70 L328.70,455.40 L325.00,459.10 L321.30,455.40 Z M322.10,453.80 L325.80,457.50 L322.10,461.20 L318.40,457.50 Z M326.40,456.60 L330.10,460.30 L326.40,464.00 L322.70,460.30 Z" fill="#c3123a" stroke="#111" stroke-width="0.85"/>
<path d="M343.40,381.00 L347.10,384.70 L343.40,388.40 L339.70,384.70 Z M343.40,388.70 L347.10,392.40 L343.40,396.10 L339.70,392.40 Z M344.10,392.60 L347.80,396.30 L344.10,400.00 L340.40,396.30 Z M344.90,397.60 L348.60,401.30 L344.90,405.00 L341.20,401.30 Z M342.70,398.30 L346.40,402.00 L342.70,405.70 L339.00,402.00 Z M343.40,417.10 L347.10,420.80 L343.40,424.50 L339.70,420.80 Z M344.10,433.90 L347.80,437.60 L344.10,441.30 L340.40,437.60 Z M345.60,436.70 L349.30,440.40 L345.60,444.10 L341.90,440.40 Z M341.30,437.40 L345.00,441.10 L341.30,444.80 L337.60,441.10 Z M342.70,438.90 L346.40,442.60 L342.70,446.30 L339.00,442.60 Z M343.40,452.40 L347.10,456.10 L343.40,459.80 L339.70,456.10 Z" fill="#74bb45" stroke="#111" stroke-width="0.85"/>
<line x1="337.7" y1="437.5" x2="349.8" y2="437.5" stroke="#111" stroke-width="1.2"/>
<text x="268.7" y="476.6" font-size="9" text-anchor="end">Allo</text>
<text x="268.7" y="489.6" font-size="9" text-anchor="end" textLength="31" lengthAdjust="spacingAndGlyphs">RA 1<tspan font-family="Liberation Serif">µ</tspan>M</text>
<text x="268.7" y="502.2" font-size="9" text-anchor="end">LPS</text>
<text x="284.9" y="476.6" font-size="9" text-anchor="middle">+</text>
<text x="304.8" y="476.6" font-size="9" text-anchor="middle">+</text>
<text x="323.8" y="476.6" font-size="9" text-anchor="middle">+</text>
<text x="343.7" y="476.6" font-size="9" text-anchor="middle">+</text>
<text x="284.9" y="489.6" font-size="9" text-anchor="middle">-</text>
<text x="304.8" y="489.6" font-size="9" text-anchor="middle">-</text>
<text x="323.8" y="489.6" font-size="9" text-anchor="middle">+</text>
<text x="343.7" y="489.6" font-size="9" text-anchor="middle">+</text>
<text x="284.9" y="502.2" font-size="9" text-anchor="middle">-</text>
<text x="304.8" y="502.2" font-size="9" text-anchor="middle">+</text>
<text x="323.8" y="502.2" font-size="9" text-anchor="middle">-</text>
<text x="343.7" y="502.2" font-size="9" text-anchor="middle">+</text>
<defs><filter id="speck" x="-10%" y="-10%" width="120%" height="120%"><feTurbulence type="fractalNoise" baseFrequency="1.1" numOctaves="1" seed="3" result="n"/><feColorMatrix in="n" type="matrix" values="0 0 0 0 0  0 0 0 0 0  0 0 0 0 0  0 0 0 -2.2 1.95" result="m"/><feComposite in="SourceGraphic" in2="m" operator="in"/></filter></defs>
<text x="371.3" y="356.6" font-size="12.5" style="fill:#000;stroke:#000" font-weight="bold">H</text>
<path d="M402.0,350 V431 M408.9,350 V431 M415.8,350 V431 M422.7,350 V431 M429.6,350 V431 M436.5,350 V431 M443.4,350 V431 M450.3,350 V431 M457.2,350 V431 M464.1,350 V431 M471.0,350 V431 M477.9,350 V431 M402,350.0 H479 M402,356.7 H479 M402,363.4 H479 M402,370.1 H479 M402,376.8 H479 M402,383.5 H479 M402,390.2 H479 M402,396.9 H479 M402,403.6 H479 M402,410.3 H479 M402,417.0 H479 M402,423.7 H479 M402,430.4 H479" stroke="#f2f2f2" stroke-width="0.6" fill="none"/>
<g filter="url(#speck)" stroke-linejoin="round" stroke-width="1.6">
<path d="M434.3,358.4 L442.2,357.6 L450,361.6 L453.8,368.7 L452.4,374.6 L447.7,375 L445.3,368.7 L439.8,362.4 Z" fill="#9ed3d3" stroke="#9ed3d3"/>
<path d="M427.2,356 L435,355.3 L436.6,358.4 L429.5,361.2 L425.6,361.2 Z" fill="#e58a2e" stroke="#e58a2e"/>
<path d="M424.8,360 L434.3,358.4 L441.2,361.4 L446.5,367.7 L447.5,374.2 L440.6,375 L431.1,370.2 L424.3,365.5 Z" fill="#f3bd84" stroke="#f3bd84"/>
<path d="M430.3,372.1 L437.4,373.4 L439.3,376.5 L435.9,377.3 L430.3,375 Z" fill="#d9628a" stroke="#d9628a"/>
<path d="M456.4,371.8 L465.8,372.6 L464.2,377.3 L458.7,380.5 L454.8,378.9 Z" fill="#e4e48c" stroke="#e4e48c"/>
<path d="M421.7,370.2 L428.8,374.2 L435.9,376.5 L445.3,378.1 L451.6,381.3 L450,389.2 L444.5,392.3 L438.2,391.5 L431.9,387.6 L428.8,382.1 L424,378.9 Z" fill="#42aa4c" stroke="#42aa4c"/>
<path d="M409.8,374.2 L413,370.2 L421.7,368.7 L427,372.6 L427.5,378.9 L424,383.6 L416.1,384.4 L411.4,381.3 Z" fill="#3fb0bc" stroke="#3fb0bc"/>
<path d="M419.3,385.2 L424.8,381.3 L429.5,382.9 L433.5,386.8 L432.7,390.7 L427.2,390 L420.1,388.4 Z" fill="#9b5248" stroke="#9b5248"/>
<path d="M404.3,392.3 L409,389.2 L418.5,388.4 L426.4,390.7 L434.3,392.3 L438.2,395.5 L436.6,401 L429.5,401.8 L421.7,402.6 L413.8,400.2 L406.7,397.1 Z" fill="#95d384" stroke="#95d384"/>
<path d="M427.2,397.8 L433.5,396.3 L437.4,397.8 L436.6,401.8 L429.5,402.6 Z" fill="#a56a58" stroke="#a56a58"/>
<path d="M406.7,399.4 L412.2,400.2 L420.1,402.6 L421.7,405 L416.9,406.5 L409.8,405.7 L406.7,403.4 Z" fill="#e5872f" stroke="#e5872f"/>
<path d="M458.7,381.3 L467.4,378.9 L474.5,382.1 L476.1,389.2 L472.1,395.5 L465.8,397.8 L460.3,395.5 L457.9,389.2 Z" fill="#d7a4a2" stroke="#d7a4a2"/>
<path d="M454,391.5 L458,390.7 L459.5,394.7 L456.4,396.3 Z" fill="#a6dbe4" stroke="#a6dbe4"/>
<path d="M446.9,395.5 L449.3,393.9 L448.5,398.6 L446.1,399.4 Z" fill="#c8c83c" stroke="#c8c83c"/>
<path d="M442.2,400.2 L446.1,400.5 L447.7,403.4 L443.7,403 Z" fill="#5e5e6e" stroke="#5e5e6e"/>
<path d="M449.3,404.1 L456.4,401.8 L462.7,404.1 L465,409.7 L461.1,414.4 L454,415.2 L448.5,412 Z" fill="#f0b4b4" stroke="#f0b4b4"/>
<path d="M429.5,405.7 L435.9,402.6 L442.2,403.4 L445.3,408.1 L443.7,416 L438.2,419.1 L431.9,416.7 L428.8,411.2 Z" fill="#ea9c9a" stroke="#ea9c9a"/>
<path d="M409.8,412 L415.4,408.1 L421.7,408.1 L421.7,414.4 L416.1,416.7 L410.6,416 Z" fill="#b0bfe8" stroke="#b0bfe8"/>
<path d="M415.4,409.7 L423.2,407.3 L428,411.2 L429.5,419.1 L426.4,425.4 L420.1,425.4 L416.1,419.1 Z" fill="#c6b0dc" stroke="#c6b0dc"/>
<path d="M431.9,420.7 L437.4,416.8 L443.7,417.6 L448.5,422.3 L446.9,427 L440.6,428.6 L433.5,427 Z" fill="#3584c4" stroke="#3584c4"/>
<circle cx="452" cy="409.5" r="2.6" fill="#d01818"/>
<circle cx="457.5" cy="405.5" r="2.4" fill="#d01818"/>
<circle cx="458" cy="409.5" r="2.3" fill="#d01818"/>
<circle cx="461.5" cy="408" r="1.8" fill="#d01818"/>
<circle cx="455" cy="412" r="1.9" fill="#d01818"/>
<circle cx="458.5" cy="413" r="1.6" fill="#d01818"/>
<circle cx="450.5" cy="412" r="1.5" fill="#d01818"/>
<circle cx="463" cy="410.5" r="1.4" fill="#d01818"/>
<circle cx="454" cy="406.5" r="1.5" fill="#d01818"/>
</g>
<circle cx="451.5" cy="359.7" r="0.4" fill="#9ed3d3"/><circle cx="441.6" cy="357.0" r="0.4" fill="#9ed3d3"/><circle cx="452.6" cy="369.8" r="0.4" fill="#9ed3d3"/><circle cx="446.0" cy="369.7" r="0.4" fill="#9ed3d3"/><circle cx="452.8" cy="377.5" r="0.4" fill="#9ed3d3"/><circle cx="446.3" cy="375.2" r="0.4" fill="#9ed3d3"/><circle cx="446.6" cy="369.9" r="0.4" fill="#9ed3d3"/><circle cx="456.7" cy="369.4" r="0.4" fill="#9ed3d3"/><circle cx="447.0" cy="375.4" r="0.4" fill="#9ed3d3"/><circle cx="453.7" cy="377.9" r="0.4" fill="#9ed3d3"/><circle cx="443.5" cy="358.3" r="0.4" fill="#9ed3d3"/><circle cx="442.7" cy="357.5" r="0.4" fill="#9ed3d3"/><circle cx="446.5" cy="368.1" r="0.4" fill="#9ed3d3"/><circle cx="454.5" cy="376.9" r="0.4" fill="#9ed3d3"/><circle cx="426.2" cy="361.4" r="0.4" fill="#e58a2e"/><circle cx="428.4" cy="361.6" r="0.4" fill="#e58a2e"/><circle cx="437.2" cy="357.2" r="0.4" fill="#e58a2e"/><circle cx="441.5" cy="360.7" r="0.4" fill="#f3bd84"/><circle cx="422.9" cy="360.3" r="0.4" fill="#f3bd84"/><circle cx="429.3" cy="370.0" r="0.4" fill="#f3bd84"/><circle cx="422.7" cy="359.8" r="0.4" fill="#f3bd84"/><circle cx="447.1" cy="368.9" r="0.4" fill="#f3bd84"/><circle cx="440.4" cy="376.1" r="0.4" fill="#f3bd84"/><circle cx="424.8" cy="360.7" r="0.4" fill="#f3bd84"/><circle cx="442.0" cy="360.5" r="0.4" fill="#f3bd84"/><circle cx="423.0" cy="359.4" r="0.4" fill="#f3bd84"/><circle cx="430.0" cy="370.2" r="0.4" fill="#f3bd84"/><circle cx="439.7" cy="375.2" r="0.4" fill="#f3bd84"/><circle cx="440.9" cy="359.5" r="0.4" fill="#f3bd84"/><circle cx="448.9" cy="373.0" r="0.4" fill="#f3bd84"/><circle cx="424.3" cy="358.6" r="0.4" fill="#f3bd84"/><circle cx="448.2" cy="373.9" r="0.4" fill="#f3bd84"/><circle cx="433.5" cy="359.4" r="0.4" fill="#f3bd84"/><circle cx="439.4" cy="377.4" r="0.4" fill="#d9628a"/><circle cx="434.6" cy="377.2" r="0.4" fill="#d9628a"/><circle cx="457.7" cy="380.6" r="0.4" fill="#e4e48c"/><circle cx="454.9" cy="379.3" r="0.4" fill="#e4e48c"/><circle cx="455.9" cy="370.2" r="0.4" fill="#e4e48c"/><circle cx="466.5" cy="372.0" r="0.4" fill="#e4e48c"/><circle cx="447.9" cy="377.7" r="0.4" fill="#42aa4c"/><circle cx="438.7" cy="391.7" r="0.4" fill="#42aa4c"/><circle cx="427.7" cy="381.9" r="0.4" fill="#42aa4c"/><circle cx="451.2" cy="379.9" r="0.4" fill="#42aa4c"/><circle cx="426.6" cy="373.8" r="0.4" fill="#42aa4c"/><circle cx="435.1" cy="374.5" r="0.4" fill="#42aa4c"/><circle cx="418.7" cy="369.7" r="0.4" fill="#42aa4c"/><circle cx="439.4" cy="393.3" r="0.4" fill="#42aa4c"/><circle cx="427.5" cy="381.7" r="0.4" fill="#42aa4c"/><circle cx="447.8" cy="377.8" r="0.4" fill="#42aa4c"/><circle cx="438.7" cy="391.1" r="0.4" fill="#42aa4c"/><circle cx="438.5" cy="391.2" r="0.4" fill="#42aa4c"/><circle cx="450.8" cy="380.8" r="0.4" fill="#42aa4c"/><circle cx="426.8" cy="381.3" r="0.4" fill="#42aa4c"/><circle cx="423.3" cy="379.0" r="0.4" fill="#42aa4c"/><circle cx="423.1" cy="378.6" r="0.4" fill="#42aa4c"/><circle cx="426.2" cy="371.8" r="0.4" fill="#42aa4c"/><circle cx="432.4" cy="388.2" r="0.4" fill="#42aa4c"/><circle cx="452.5" cy="380.6" r="0.4" fill="#42aa4c"/><circle cx="428.0" cy="382.1" r="0.4" fill="#42aa4c"/><circle cx="426.6" cy="380.7" r="0.4" fill="#42aa4c"/><circle cx="429.5" cy="372.4" r="0.4" fill="#42aa4c"/><circle cx="436.2" cy="376.9" r="0.4" fill="#42aa4c"/><circle cx="444.8" cy="392.7" r="0.4" fill="#42aa4c"/><circle cx="452.4" cy="381.3" r="0.4" fill="#42aa4c"/><circle cx="427.3" cy="374.2" r="0.4" fill="#42aa4c"/><circle cx="452.2" cy="380.1" r="0.4" fill="#42aa4c"/><circle cx="412.7" cy="367.9" r="0.4" fill="#3fb0bc"/><circle cx="415.8" cy="385.3" r="0.4" fill="#3fb0bc"/><circle cx="421.0" cy="368.4" r="0.4" fill="#3fb0bc"/><circle cx="415.7" cy="386.9" r="0.4" fill="#3fb0bc"/><circle cx="428.5" cy="378.4" r="0.4" fill="#3fb0bc"/><circle cx="422.6" cy="385.1" r="0.4" fill="#3fb0bc"/><circle cx="428.5" cy="379.0" r="0.4" fill="#3fb0bc"/><circle cx="417.3" cy="385.9" r="0.4" fill="#3fb0bc"/><circle cx="410.3" cy="381.8" r="0.4" fill="#3fb0bc"/><circle cx="409.5" cy="382.2" r="0.4" fill="#3fb0bc"/><circle cx="427.5" cy="380.0" r="0.4" fill="#3fb0bc"/><circle cx="411.4" cy="369.0" r="0.4" fill="#3fb0bc"/><circle cx="426.4" cy="391.7" r="0.4" fill="#9b5248"/><circle cx="418.1" cy="386.1" r="0.4" fill="#9b5248"/><circle cx="428.5" cy="383.0" r="0.4" fill="#9b5248"/><circle cx="418.3" cy="387.2" r="0.4" fill="#9b5248"/><circle cx="423.9" cy="381.9" r="0.4" fill="#9b5248"/><circle cx="427.6" cy="389.4" r="0.4" fill="#9b5248"/><circle cx="441.3" cy="394.5" r="0.4" fill="#95d384"/><circle cx="421.2" cy="404.0" r="0.4" fill="#95d384"/><circle cx="406.9" cy="398.6" r="0.4" fill="#95d384"/><circle cx="440.1" cy="396.5" r="0.4" fill="#95d384"/><circle cx="414.4" cy="399.5" r="0.4" fill="#95d384"/><circle cx="401.9" cy="392.0" r="0.4" fill="#95d384"/><circle cx="404.3" cy="398.2" r="0.4" fill="#95d384"/><circle cx="426.4" cy="389.5" r="0.4" fill="#95d384"/><circle cx="406.6" cy="397.7" r="0.4" fill="#95d384"/><circle cx="431.2" cy="403.2" r="0.4" fill="#95d384"/><circle cx="421.4" cy="402.9" r="0.4" fill="#95d384"/><circle cx="436.7" cy="393.2" r="0.4" fill="#95d384"/><circle cx="414.3" cy="400.5" r="0.4" fill="#95d384"/><circle cx="412.8" cy="401.3" r="0.4" fill="#95d384"/><circle cx="437.7" cy="400.5" r="0.4" fill="#95d384"/><circle cx="429.6" cy="401.8" r="0.4" fill="#95d384"/><circle cx="404.5" cy="397.9" r="0.4" fill="#95d384"/><circle cx="426.7" cy="390.3" r="0.4" fill="#95d384"/><circle cx="426.7" cy="390.2" r="0.4" fill="#95d384"/><circle cx="406.1" cy="395.9" r="0.4" fill="#95d384"/><circle cx="426.6" cy="397.1" r="0.4" fill="#a56a58"/><circle cx="430.0" cy="402.7" r="0.4" fill="#a56a58"/><circle cx="438.0" cy="398.1" r="0.4" fill="#a56a58"/><circle cx="408.1" cy="404.9" r="0.4" fill="#e5872f"/><circle cx="417.9" cy="406.3" r="0.4" fill="#e5872f"/><circle cx="422.1" cy="403.2" r="0.4" fill="#e5872f"/><circle cx="407.2" cy="404.1" r="0.4" fill="#e5872f"/><circle cx="421.8" cy="402.7" r="0.4" fill="#e5872f"/><circle cx="456.4" cy="379.6" r="0.4" fill="#d7a4a2"/><circle cx="468.7" cy="379.6" r="0.4" fill="#d7a4a2"/><circle cx="476.8" cy="381.9" r="0.4" fill="#d7a4a2"/><circle cx="468.8" cy="379.2" r="0.4" fill="#d7a4a2"/><circle cx="460.0" cy="396.8" r="0.4" fill="#d7a4a2"/><circle cx="466.1" cy="398.8" r="0.4" fill="#d7a4a2"/><circle cx="476.7" cy="388.9" r="0.4" fill="#d7a4a2"/><circle cx="466.9" cy="376.9" r="0.4" fill="#d7a4a2"/><circle cx="456.9" cy="379.8" r="0.4" fill="#d7a4a2"/><circle cx="457.8" cy="381.1" r="0.4" fill="#d7a4a2"/><circle cx="475.5" cy="388.3" r="0.4" fill="#d7a4a2"/><circle cx="472.2" cy="397.0" r="0.4" fill="#d7a4a2"/><circle cx="475.5" cy="382.3" r="0.4" fill="#d7a4a2"/><circle cx="477.1" cy="388.6" r="0.4" fill="#d7a4a2"/><circle cx="451.9" cy="391.3" r="0.4" fill="#a6dbe4"/><circle cx="455.0" cy="392.0" r="0.4" fill="#a6dbe4"/><circle cx="449.0" cy="394.8" r="0.4" fill="#c8c83c"/><circle cx="443.1" cy="403.2" r="0.4" fill="#5e5e6e"/><circle cx="449.7" cy="403.5" r="0.4" fill="#f0b4b4"/><circle cx="462.4" cy="415.5" r="0.4" fill="#f0b4b4"/><circle cx="466.5" cy="409.4" r="0.4" fill="#f0b4b4"/><circle cx="460.4" cy="414.7" r="0.4" fill="#f0b4b4"/><circle cx="453.5" cy="418.0" r="0.4" fill="#f0b4b4"/><circle cx="466.3" cy="411.2" r="0.4" fill="#f0b4b4"/><circle cx="452.7" cy="415.8" r="0.4" fill="#f0b4b4"/><circle cx="460.9" cy="415.4" r="0.4" fill="#f0b4b4"/><circle cx="453.5" cy="415.5" r="0.4" fill="#f0b4b4"/><circle cx="436.5" cy="402.1" r="0.4" fill="#ea9c9a"/><circle cx="444.5" cy="417.3" r="0.4" fill="#ea9c9a"/><circle cx="432.0" cy="418.7" r="0.4" fill="#ea9c9a"/><circle cx="428.1" cy="405.9" r="0.4" fill="#ea9c9a"/><circle cx="445.0" cy="416.2" r="0.4" fill="#ea9c9a"/><circle cx="427.1" cy="410.1" r="0.4" fill="#ea9c9a"/><circle cx="430.5" cy="416.6" r="0.4" fill="#ea9c9a"/><circle cx="444.2" cy="403.1" r="0.4" fill="#ea9c9a"/><circle cx="430.4" cy="417.1" r="0.4" fill="#ea9c9a"/><circle cx="445.3" cy="406.7" r="0.4" fill="#ea9c9a"/><circle cx="438.5" cy="418.8" r="0.4" fill="#ea9c9a"/><circle cx="423.3" cy="408.3" r="0.4" fill="#b0bfe8"/><circle cx="422.9" cy="407.4" r="0.4" fill="#b0bfe8"/><circle cx="422.8" cy="415.6" r="0.4" fill="#b0bfe8"/><circle cx="422.0" cy="407.6" r="0.4" fill="#b0bfe8"/><circle cx="413.9" cy="408.4" r="0.4" fill="#b0bfe8"/><circle cx="428.1" cy="427.6" r="0.4" fill="#c6b0dc"/><circle cx="422.4" cy="405.8" r="0.4" fill="#c6b0dc"/><circle cx="423.6" cy="405.5" r="0.4" fill="#c6b0dc"/><circle cx="421.3" cy="425.6" r="0.4" fill="#c6b0dc"/><circle cx="422.1" cy="407.6" r="0.4" fill="#c6b0dc"/><circle cx="428.1" cy="409.6" r="0.4" fill="#c6b0dc"/><circle cx="422.7" cy="404.4" r="0.4" fill="#c6b0dc"/><circle cx="431.3" cy="420.7" r="0.4" fill="#c6b0dc"/><circle cx="415.6" cy="410.8" r="0.4" fill="#c6b0dc"/><circle cx="423.3" cy="405.8" r="0.4" fill="#c6b0dc"/><circle cx="419.8" cy="427.0" r="0.4" fill="#c6b0dc"/><circle cx="433.4" cy="426.3" r="0.4" fill="#3584c4"/><circle cx="437.1" cy="415.8" r="0.4" fill="#3584c4"/><circle cx="435.9" cy="414.7" r="0.4" fill="#3584c4"/><circle cx="447.0" cy="428.2" r="0.4" fill="#3584c4"/><circle cx="442.9" cy="416.1" r="0.4" fill="#3584c4"/><circle cx="432.7" cy="421.7" r="0.4" fill="#3584c4"/><circle cx="445.5" cy="415.8" r="0.4" fill="#3584c4"/><circle cx="438.2" cy="417.0" r="0.4" fill="#3584c4"/>
<path d="M402.0,442 V521 M408.9,442 V521 M415.8,442 V521 M422.7,442 V521 M429.6,442 V521 M436.5,442 V521 M443.4,442 V521 M450.3,442 V521 M457.2,442 V521 M464.1,442 V521 M471.0,442 V521 M477.9,442 V521 M402,442.0 H479 M402,448.7 H479 M402,455.4 H479 M402,462.1 H479 M402,468.8 H479 M402,475.5 H479 M402,482.2 H479 M402,488.9 H479 M402,495.6 H479 M402,502.3 H479 M402,509.0 H479 M402,515.7 H479" stroke="#f2f2f2" stroke-width="0.6" fill="none"/>
<g filter="url(#speck)" stroke-linejoin="round" stroke-width="1.6">
<path d="M438.2,448.8 L444.5,448 L450,452 L452.4,458.3 L451.6,463.8 L447.7,463 L444.5,455.9 Z" fill="#a0d4d4" stroke="#a0d4d4"/>
<path d="M422.4,452 L429.5,447.3 L435.9,448 L443.7,454.4 L448.5,460.7 L447.7,465.4 L440.6,464.6 L432.7,460.7 L424,456.7 Z" fill="#f3b87c" stroke="#f3b87c"/>
<path d="M452.4,452 L457.1,452.8 L458.7,455.9 L454.8,455.9 Z" fill="#86cccc" stroke="#86cccc"/>
<path d="M409.8,465.4 L413.8,460.7 L421.7,459.9 L427.2,463.8 L429.5,468.5 L425.6,472.5 L418.5,472.5 L411.4,470.1 Z" fill="#46b2c0" stroke="#46b2c0"/>
<path d="M428.8,460.7 L435.1,462.2 L437.4,466.2 L431.9,466.2 Z" fill="#ecc6d4" stroke="#ecc6d4"/>
<path d="M454,463 L460.3,460.7 L465,463 L464.2,467.8 L459.5,470.1 L454.8,468.5 Z" fill="#e4e47c" stroke="#e4e47c"/>
<path d="M421.7,461.5 L429.5,466.2 L437.4,467.8 L446.9,467 L451.6,470.1 L450.8,476.4 L445.3,479.6 L438.2,480.4 L432.7,476.4 L428.8,470.9 L423.2,467 Z" fill="#42aa4c" stroke="#42aa4c"/>
<path d="M417.7,474.9 L422.4,471.7 L429.5,474.1 L433.5,478.8 L431.9,481.2 L425.6,480.4 L419.3,478 Z" fill="#9b5248" stroke="#9b5248"/>
<path d="M404.3,482 L408.3,478 L416.9,477.2 L424.8,479.6 L434.3,481.2 L438.2,484.3 L436.6,489.8 L429.5,491.4 L421.7,490.6 L412.2,487.5 L405.9,485.1 Z" fill="#95d384" stroke="#95d384"/>
<path d="M428.8,487.5 L435.1,485.1 L437.4,488.3 L434.3,491.4 L429.5,491.4 Z" fill="#a56a58" stroke="#a56a58"/>
<path d="M457.9,470.9 L465.8,467.8 L472.9,470.9 L474.5,478.8 L471.3,485.9 L464.2,487.5 L458.7,484.3 L457.1,477.2 Z" fill="#d7a4a2" stroke="#d7a4a2"/>
<path d="M453.2,474.9 L455.1,474.1 L455.6,478 L453.5,478.3 Z" fill="#8a62c4" stroke="#8a62c4"/>
<path d="M452.4,480.4 L457.1,479.6 L458.7,483.5 L454.8,484.3 Z" fill="#a6dbe4" stroke="#a6dbe4"/>
<path d="M446.1,484.3 L448.5,482.7 L448.2,486.7 L445.3,488.3 Z" fill="#cccc44" stroke="#cccc44"/>
<path d="M439.8,483.5 L443.7,482.7 L444.5,486.7 L440.6,487.5 Z" fill="#c4c4cc" stroke="#c4c4cc"/>
<path d="M448.5,488.3 L451.6,485.1 L458.7,486.7 L461.9,493 L462.7,500.1 L460.3,503.2 L454.8,502.5 L450,497.7 L448.2,493 Z" fill="#dc2222" stroke="#dc2222"/>
<path d="M462.7,493.8 L466.6,493 L467.4,496.1 L464.2,496.9 Z" fill="#8a62c4" stroke="#8a62c4"/>
<path d="M405.1,488.3 L413.8,487.5 L421.7,490.6 L421.7,494.6 L415.4,495.4 L407.5,493 Z" fill="#f8e2cc" stroke="#f8e2cc"/>
<path d="M425.6,492.2 L429.5,492.2 L430.3,495.4 L426.1,495.4 Z" fill="#c4c4c4" stroke="#c4c4c4"/>
<path d="M431.1,494.6 L437.4,491.4 L443.7,492.2 L448.5,496.1 L449.3,501.7 L445.3,506.4 L438.2,507.2 L431.9,504 L429.5,499.3 Z" fill="#ea9c9a" stroke="#ea9c9a"/>
<path d="M416.9,500.1 L421.7,497 L428,497.7 L431.1,503.2 L429.5,511.1 L424.8,513.5 L418.5,511.1 L416.1,505.6 Z" fill="#c6b0dc" stroke="#c6b0dc"/>
<path d="M431.9,509.6 L436.6,506.4 L443.7,506.4 L447.7,510.3 L446.1,515.1 L439.8,516.7 L433.5,515.1 Z" fill="#3584c4" stroke="#3584c4"/>
<path d="M449.3,508 L452.4,508 L453.2,512.7 L450,513.5 Z" fill="#b4a4d4" stroke="#b4a4d4"/>
</g>
<circle cx="442.6" cy="454.7" r="0.4" fill="#a0d4d4"/><circle cx="445.3" cy="457.0" r="0.4" fill="#a0d4d4"/><circle cx="450.8" cy="451.7" r="0.4" fill="#a0d4d4"/><circle cx="444.3" cy="447.0" r="0.4" fill="#a0d4d4"/><circle cx="445.2" cy="456.1" r="0.4" fill="#a0d4d4"/><circle cx="454.3" cy="459.7" r="0.4" fill="#a0d4d4"/><circle cx="449.8" cy="451.2" r="0.4" fill="#a0d4d4"/><circle cx="450.8" cy="463.3" r="0.4" fill="#a0d4d4"/><circle cx="443.2" cy="447.4" r="0.4" fill="#a0d4d4"/><circle cx="421.0" cy="457.9" r="0.4" fill="#f3b87c"/><circle cx="442.6" cy="466.8" r="0.4" fill="#f3b87c"/><circle cx="449.8" cy="466.0" r="0.4" fill="#f3b87c"/><circle cx="441.3" cy="466.1" r="0.4" fill="#f3b87c"/><circle cx="432.5" cy="461.0" r="0.4" fill="#f3b87c"/><circle cx="449.5" cy="468.1" r="0.4" fill="#f3b87c"/><circle cx="450.6" cy="467.3" r="0.4" fill="#f3b87c"/><circle cx="433.5" cy="462.3" r="0.4" fill="#f3b87c"/><circle cx="436.2" cy="446.9" r="0.4" fill="#f3b87c"/><circle cx="433.8" cy="461.6" r="0.4" fill="#f3b87c"/><circle cx="422.3" cy="457.1" r="0.4" fill="#f3b87c"/><circle cx="440.1" cy="465.3" r="0.4" fill="#f3b87c"/><circle cx="427.7" cy="444.0" r="0.4" fill="#f3b87c"/><circle cx="444.4" cy="454.1" r="0.4" fill="#f3b87c"/><circle cx="420.6" cy="452.8" r="0.4" fill="#f3b87c"/><circle cx="427.2" cy="444.8" r="0.4" fill="#f3b87c"/><circle cx="444.2" cy="455.1" r="0.4" fill="#f3b87c"/><circle cx="421.8" cy="451.2" r="0.4" fill="#f3b87c"/><circle cx="423.5" cy="450.5" r="0.4" fill="#f3b87c"/><circle cx="451.0" cy="453.1" r="0.4" fill="#86cccc"/><circle cx="420.5" cy="459.3" r="0.4" fill="#46b2c0"/><circle cx="426.1" cy="463.2" r="0.4" fill="#46b2c0"/><circle cx="413.3" cy="459.7" r="0.4" fill="#46b2c0"/><circle cx="408.3" cy="466.2" r="0.4" fill="#46b2c0"/><circle cx="421.1" cy="459.6" r="0.4" fill="#46b2c0"/><circle cx="425.4" cy="474.6" r="0.4" fill="#46b2c0"/><circle cx="422.8" cy="459.0" r="0.4" fill="#46b2c0"/><circle cx="427.2" cy="472.0" r="0.4" fill="#46b2c0"/><circle cx="418.9" cy="474.8" r="0.4" fill="#46b2c0"/><circle cx="408.1" cy="464.3" r="0.4" fill="#46b2c0"/><circle cx="431.7" cy="468.0" r="0.4" fill="#ecc6d4"/><circle cx="426.9" cy="459.8" r="0.4" fill="#ecc6d4"/><circle cx="464.3" cy="463.8" r="0.4" fill="#e4e47c"/><circle cx="458.7" cy="470.7" r="0.4" fill="#e4e47c"/><circle cx="458.4" cy="470.6" r="0.4" fill="#e4e47c"/><circle cx="461.0" cy="459.8" r="0.4" fill="#e4e47c"/><circle cx="454.7" cy="461.8" r="0.4" fill="#e4e47c"/><circle cx="419.6" cy="459.7" r="0.4" fill="#42aa4c"/><circle cx="422.5" cy="467.4" r="0.4" fill="#42aa4c"/><circle cx="448.5" cy="466.3" r="0.4" fill="#42aa4c"/><circle cx="428.7" cy="472.1" r="0.4" fill="#42aa4c"/><circle cx="427.2" cy="471.8" r="0.4" fill="#42aa4c"/><circle cx="452.2" cy="475.3" r="0.4" fill="#42aa4c"/><circle cx="453.3" cy="476.4" r="0.4" fill="#42aa4c"/><circle cx="418.1" cy="458.2" r="0.4" fill="#42aa4c"/><circle cx="449.5" cy="464.7" r="0.4" fill="#42aa4c"/><circle cx="438.6" cy="480.4" r="0.4" fill="#42aa4c"/><circle cx="426.1" cy="469.4" r="0.4" fill="#42aa4c"/><circle cx="453.8" cy="470.6" r="0.4" fill="#42aa4c"/><circle cx="446.8" cy="467.5" r="0.4" fill="#42aa4c"/><circle cx="437.2" cy="466.0" r="0.4" fill="#42aa4c"/><circle cx="429.6" cy="465.5" r="0.4" fill="#42aa4c"/><circle cx="447.9" cy="480.2" r="0.4" fill="#42aa4c"/><circle cx="420.2" cy="467.1" r="0.4" fill="#42aa4c"/><circle cx="452.8" cy="470.9" r="0.4" fill="#42aa4c"/><circle cx="454.5" cy="470.6" r="0.4" fill="#42aa4c"/><circle cx="448.3" cy="480.9" r="0.4" fill="#42aa4c"/><circle cx="447.6" cy="467.0" r="0.4" fill="#42aa4c"/><circle cx="419.6" cy="466.9" r="0.4" fill="#42aa4c"/><circle cx="428.2" cy="472.4" r="0.4" fill="#42aa4c"/><circle cx="422.9" cy="471.5" r="0.4" fill="#9b5248"/><circle cx="426.0" cy="480.1" r="0.4" fill="#9b5248"/><circle cx="430.5" cy="475.0" r="0.4" fill="#9b5248"/><circle cx="430.0" cy="472.6" r="0.4" fill="#9b5248"/><circle cx="434.8" cy="482.0" r="0.4" fill="#9b5248"/><circle cx="430.6" cy="473.0" r="0.4" fill="#9b5248"/><circle cx="422.6" cy="470.8" r="0.4" fill="#9b5248"/><circle cx="441.8" cy="483.2" r="0.4" fill="#95d384"/><circle cx="431.9" cy="492.3" r="0.4" fill="#95d384"/><circle cx="415.1" cy="475.8" r="0.4" fill="#95d384"/><circle cx="437.9" cy="481.3" r="0.4" fill="#95d384"/><circle cx="430.4" cy="492.7" r="0.4" fill="#95d384"/><circle cx="406.5" cy="485.8" r="0.4" fill="#95d384"/><circle cx="421.5" cy="492.1" r="0.4" fill="#95d384"/><circle cx="401.8" cy="485.4" r="0.4" fill="#95d384"/><circle cx="431.8" cy="491.1" r="0.4" fill="#95d384"/><circle cx="425.8" cy="480.0" r="0.4" fill="#95d384"/><circle cx="407.2" cy="478.3" r="0.4" fill="#95d384"/><circle cx="437.0" cy="479.7" r="0.4" fill="#95d384"/><circle cx="412.2" cy="487.4" r="0.4" fill="#95d384"/><circle cx="435.0" cy="481.4" r="0.4" fill="#95d384"/><circle cx="408.4" cy="477.6" r="0.4" fill="#95d384"/><circle cx="404.2" cy="485.2" r="0.4" fill="#95d384"/><circle cx="402.3" cy="486.4" r="0.4" fill="#95d384"/><circle cx="428.3" cy="492.2" r="0.4" fill="#95d384"/><circle cx="417.4" cy="477.4" r="0.4" fill="#95d384"/><circle cx="437.4" cy="481.8" r="0.4" fill="#95d384"/><circle cx="435.1" cy="486.5" r="0.4" fill="#a56a58"/><circle cx="436.9" cy="488.2" r="0.4" fill="#a56a58"/><circle cx="428.5" cy="487.0" r="0.4" fill="#a56a58"/><circle cx="457.2" cy="477.2" r="0.4" fill="#d7a4a2"/><circle cx="473.9" cy="471.3" r="0.4" fill="#d7a4a2"/><circle cx="465.3" cy="466.6" r="0.4" fill="#d7a4a2"/><circle cx="472.0" cy="488.2" r="0.4" fill="#d7a4a2"/><circle cx="465.0" cy="466.8" r="0.4" fill="#d7a4a2"/><circle cx="474.8" cy="468.9" r="0.4" fill="#d7a4a2"/><circle cx="476.9" cy="479.1" r="0.4" fill="#d7a4a2"/><circle cx="455.0" cy="470.2" r="0.4" fill="#d7a4a2"/><circle cx="456.4" cy="485.2" r="0.4" fill="#d7a4a2"/><circle cx="463.1" cy="488.4" r="0.4" fill="#d7a4a2"/><circle cx="470.9" cy="487.5" r="0.4" fill="#d7a4a2"/><circle cx="476.1" cy="477.8" r="0.4" fill="#d7a4a2"/><circle cx="476.3" cy="479.9" r="0.4" fill="#d7a4a2"/><circle cx="474.5" cy="469.5" r="0.4" fill="#d7a4a2"/><circle cx="454.4" cy="478.0" r="0.4" fill="#8a62c4"/><circle cx="460.0" cy="484.9" r="0.4" fill="#a6dbe4"/><circle cx="459.5" cy="482.4" r="0.4" fill="#a6dbe4"/><circle cx="447.3" cy="488.2" r="0.4" fill="#cccc44"/><circle cx="443.5" cy="488.1" r="0.4" fill="#c4c4cc"/><circle cx="460.4" cy="503.9" r="0.4" fill="#dc2222"/><circle cx="459.2" cy="504.7" r="0.4" fill="#dc2222"/><circle cx="454.3" cy="503.5" r="0.4" fill="#dc2222"/><circle cx="454.7" cy="504.8" r="0.4" fill="#dc2222"/><circle cx="462.0" cy="502.7" r="0.4" fill="#dc2222"/><circle cx="458.9" cy="484.1" r="0.4" fill="#dc2222"/><circle cx="460.1" cy="503.0" r="0.4" fill="#dc2222"/><circle cx="461.8" cy="494.1" r="0.4" fill="#dc2222"/><circle cx="446.1" cy="485.7" r="0.4" fill="#dc2222"/><circle cx="447.9" cy="498.4" r="0.4" fill="#dc2222"/><circle cx="452.1" cy="484.6" r="0.4" fill="#dc2222"/><circle cx="462.8" cy="497.8" r="0.4" fill="#8a62c4"/><circle cx="422.3" cy="496.1" r="0.4" fill="#f8e2cc"/><circle cx="415.5" cy="496.0" r="0.4" fill="#f8e2cc"/><circle cx="424.6" cy="495.2" r="0.4" fill="#f8e2cc"/><circle cx="422.3" cy="496.0" r="0.4" fill="#f8e2cc"/><circle cx="422.5" cy="496.7" r="0.4" fill="#f8e2cc"/><circle cx="405.7" cy="492.9" r="0.4" fill="#f8e2cc"/><circle cx="424.3" cy="494.5" r="0.4" fill="#c4c4c4"/><circle cx="444.2" cy="506.6" r="0.4" fill="#ea9c9a"/><circle cx="438.2" cy="490.6" r="0.4" fill="#ea9c9a"/><circle cx="431.4" cy="504.5" r="0.4" fill="#ea9c9a"/><circle cx="444.6" cy="489.6" r="0.4" fill="#ea9c9a"/><circle cx="428.2" cy="499.4" r="0.4" fill="#ea9c9a"/><circle cx="426.2" cy="499.3" r="0.4" fill="#ea9c9a"/><circle cx="443.5" cy="491.2" r="0.4" fill="#ea9c9a"/><circle cx="430.2" cy="493.4" r="0.4" fill="#ea9c9a"/><circle cx="438.6" cy="509.0" r="0.4" fill="#ea9c9a"/><circle cx="445.2" cy="490.3" r="0.4" fill="#ea9c9a"/><circle cx="448.0" cy="495.5" r="0.4" fill="#ea9c9a"/><circle cx="443.9" cy="492.3" r="0.4" fill="#ea9c9a"/><circle cx="437.0" cy="489.7" r="0.4" fill="#ea9c9a"/><circle cx="413.5" cy="506.4" r="0.4" fill="#c6b0dc"/><circle cx="421.8" cy="496.0" r="0.4" fill="#c6b0dc"/><circle cx="430.5" cy="501.9" r="0.4" fill="#c6b0dc"/><circle cx="416.3" cy="499.1" r="0.4" fill="#c6b0dc"/><circle cx="416.8" cy="498.4" r="0.4" fill="#c6b0dc"/><circle cx="427.3" cy="495.7" r="0.4" fill="#c6b0dc"/><circle cx="422.2" cy="498.0" r="0.4" fill="#c6b0dc"/><circle cx="422.5" cy="495.0" r="0.4" fill="#c6b0dc"/><circle cx="430.0" cy="512.1" r="0.4" fill="#c6b0dc"/><circle cx="430.9" cy="511.1" r="0.4" fill="#c6b0dc"/><circle cx="447.6" cy="509.5" r="0.4" fill="#3584c4"/><circle cx="433.9" cy="514.5" r="0.4" fill="#3584c4"/><circle cx="431.0" cy="509.6" r="0.4" fill="#3584c4"/><circle cx="449.6" cy="511.3" r="0.4" fill="#3584c4"/><circle cx="449.8" cy="511.0" r="0.4" fill="#3584c4"/><circle cx="450.8" cy="509.7" r="0.4" fill="#3584c4"/><circle cx="445.6" cy="515.3" r="0.4" fill="#3584c4"/><circle cx="453.7" cy="507.0" r="0.4" fill="#b4a4d4"/>
<path d="M395.6,405.3 V433.4 H422.5" stroke="#000" stroke-width="1.25" fill="none"/>
<path d="M392.40000000000003,407.5 L395.6,400.3 L398.8,407.5 L395.6,406.1 Z M420.3,430.2 L427.5,433.4 L420.3,436.59999999999997 L421.7,433.4 Z" fill="#000"/>
<path d="M395.6,494.3 V522.0 H422.7" stroke="#000" stroke-width="1.25" fill="none"/>
<path d="M392.40000000000003,496.5 L395.6,489.3 L398.8,496.5 L395.6,495.1 Z M420.5,518.8 L427.7,522.0 L420.5,525.2 L421.9,522.0 Z" fill="#000"/>
<text x="0" y="0" font-size="9.7" text-anchor="middle" textLength="24" lengthAdjust="spacingAndGlyphs" transform="translate(390.4,420.9) rotate(-90)">tSNE-2</text>
<text x="408.3" y="443.2" font-size="9.7" text-anchor="middle" textLength="23.5" lengthAdjust="spacingAndGlyphs">tSNE-1</text>
<text x="0" y="0" font-size="9.7" text-anchor="middle" textLength="24" lengthAdjust="spacingAndGlyphs" transform="translate(390.6,510) rotate(-90)">tSNE-2</text>
<text x="408.3" y="532.1" font-size="9.7" text-anchor="middle" textLength="23.5" lengthAdjust="spacingAndGlyphs">tSNE-1</text>
<text x="470.3" y="359.2" font-size="9" textLength="14.3" lengthAdjust="spacingAndGlyphs">Allo</text>
<text x="474.2" y="450.5" font-size="9" textLength="36.3" lengthAdjust="spacingAndGlyphs">Allo + RA</text>
<text x="476.8" y="460.8" font-size="9" textLength="30.7" lengthAdjust="spacingAndGlyphs">and LPS</text>
<text x="9.3" y="555.5" font-size="12.5" style="fill:#000;stroke:#000" font-weight="bold">I</text>
<rect x="42.10" y="581.10" width="10.79" height="10.55" fill="#3a8ad0"/>
<rect x="52.59" y="581.10" width="10.79" height="10.55" fill="#d03a30"/>
<rect x="63.08" y="581.10" width="10.79" height="10.55" fill="#d03a30"/>
<rect x="73.57" y="581.10" width="10.79" height="10.55" fill="#dd7777"/>
<rect x="84.06" y="581.10" width="10.79" height="10.55" fill="#f0c4c4"/>
<rect x="94.55" y="581.10" width="10.79" height="10.55" fill="#e8a5a5"/>
<rect x="105.04" y="581.10" width="10.79" height="10.55" fill="#d03a30"/>
<rect x="115.53" y="581.10" width="10.79" height="10.55" fill="#edb5b5"/>
<rect x="42.10" y="591.35" width="10.79" height="10.55" fill="#2a7cc8"/>
<rect x="52.59" y="591.35" width="10.79" height="10.55" fill="#d03a30"/>
<rect x="63.08" y="591.35" width="10.79" height="10.55" fill="#d95b55"/>
<rect x="73.57" y="591.35" width="10.79" height="10.55" fill="#e8a5a5"/>
<rect x="84.06" y="591.35" width="10.79" height="10.55" fill="#dd7a7a"/>
<rect x="94.55" y="591.35" width="10.79" height="10.55" fill="#e8a5a5"/>
<rect x="105.04" y="591.35" width="10.79" height="10.55" fill="#fdf3f3"/>
<rect x="115.53" y="591.35" width="10.79" height="10.55" fill="#d8e8f5"/>
<rect x="42.10" y="601.60" width="10.79" height="10.55" fill="#3a8fd0"/>
<rect x="52.59" y="601.60" width="10.79" height="10.55" fill="#d94a40"/>
<rect x="63.08" y="601.60" width="10.79" height="10.55" fill="#d54020"/>
<rect x="73.57" y="601.60" width="10.79" height="10.55" fill="#d03025"/>
<rect x="84.06" y="601.60" width="10.79" height="10.55" fill="#d94440"/>
<rect x="94.55" y="601.60" width="10.79" height="10.55" fill="#2a7cc8"/>
<rect x="105.04" y="601.60" width="10.79" height="10.55" fill="#d54038"/>
<rect x="115.53" y="601.60" width="10.79" height="10.55" fill="#eab0b0"/>
<rect x="42.10" y="611.85" width="10.79" height="10.55" fill="#4a98d8"/>
<rect x="52.59" y="611.85" width="10.79" height="10.55" fill="#d03a30"/>
<rect x="63.08" y="611.85" width="10.79" height="10.55" fill="#dd7070"/>
<rect x="73.57" y="611.85" width="10.79" height="10.55" fill="#d03025"/>
<rect x="84.06" y="611.85" width="10.79" height="10.55" fill="#f5f8fc"/>
<rect x="94.55" y="611.85" width="10.79" height="10.55" fill="#2e86cc"/>
<rect x="105.04" y="611.85" width="10.79" height="10.55" fill="#ebadad"/>
<rect x="115.53" y="611.85" width="10.79" height="10.55" fill="#fcf6f8"/>
<rect x="42.10" y="632.80" width="10.79" height="10.75" fill="#2f86cc"/>
<rect x="52.59" y="632.80" width="10.79" height="10.75" fill="#d03025"/>
<rect x="63.08" y="632.80" width="10.79" height="10.75" fill="#d5e6f5"/>
<rect x="73.57" y="632.80" width="10.79" height="10.75" fill="#d03025"/>
<rect x="84.06" y="632.80" width="10.79" height="10.75" fill="#d43a30"/>
<rect x="94.55" y="632.80" width="10.79" height="10.75" fill="#f5f8fc"/>
<rect x="105.04" y="632.80" width="10.79" height="10.75" fill="#d03025"/>
<rect x="115.53" y="632.80" width="10.79" height="10.75" fill="#d05a58"/>
<rect x="42.10" y="643.25" width="10.79" height="10.75" fill="#5aa0d8"/>
<rect x="52.59" y="643.25" width="10.79" height="10.75" fill="#d03025"/>
<rect x="63.08" y="643.25" width="10.79" height="10.75" fill="#e5eff8"/>
<rect x="73.57" y="643.25" width="10.79" height="10.75" fill="#d03025"/>
<rect x="84.06" y="643.25" width="10.79" height="10.75" fill="#d43a30"/>
<rect x="94.55" y="643.25" width="10.79" height="10.75" fill="#f5dde0"/>
<rect x="105.04" y="643.25" width="10.79" height="10.75" fill="#d54540"/>
<rect x="115.53" y="643.25" width="10.79" height="10.75" fill="#90c0e5"/>
<rect x="42.10" y="653.70" width="10.79" height="10.75" fill="#3a8ed0"/>
<rect x="52.59" y="653.70" width="10.79" height="10.75" fill="#d03025"/>
<rect x="63.08" y="653.70" width="10.79" height="10.75" fill="#a8cce8"/>
<rect x="73.57" y="653.70" width="10.79" height="10.75" fill="#d03025"/>
<rect x="84.06" y="653.70" width="10.79" height="10.75" fill="#c5ddf0"/>
<rect x="94.55" y="653.70" width="10.79" height="10.75" fill="#fcf8fa"/>
<rect x="105.04" y="653.70" width="10.79" height="10.75" fill="#b0d2ee"/>
<rect x="115.53" y="653.70" width="10.79" height="10.75" fill="#b5d5ee"/>
<rect x="42.10" y="664.15" width="10.79" height="10.75" fill="#1f6ab8"/>
<rect x="52.59" y="664.15" width="10.79" height="10.75" fill="#d03025"/>
<rect x="63.08" y="664.15" width="10.79" height="10.75" fill="#a0c8e8"/>
<rect x="73.57" y="664.15" width="10.79" height="10.75" fill="#e8a5a5"/>
<rect x="84.06" y="664.15" width="10.79" height="10.75" fill="#dd6a6a"/>
<rect x="94.55" y="664.15" width="10.79" height="10.75" fill="#dd6a6a"/>
<rect x="105.04" y="664.15" width="10.79" height="10.75" fill="#d54540"/>
<rect x="115.53" y="664.15" width="10.79" height="10.75" fill="#b5d5ee"/>
<rect x="42.10" y="674.60" width="10.79" height="10.75" fill="#2a80c8"/>
<rect x="52.59" y="674.60" width="10.79" height="10.75" fill="#d54540"/>
<rect x="63.08" y="674.60" width="10.79" height="10.75" fill="#bcd8f0"/>
<rect x="73.57" y="674.60" width="10.79" height="10.75" fill="#f0d0d0"/>
<rect x="84.06" y="674.60" width="10.79" height="10.75" fill="#e8aaaa"/>
<rect x="94.55" y="674.60" width="10.79" height="10.75" fill="#e08585"/>
<rect x="105.04" y="674.60" width="10.79" height="10.75" fill="#fdf8fa"/>
<rect x="115.53" y="674.60" width="10.79" height="10.75" fill="#c5ddf0"/>
<rect x="42.10" y="685.05" width="10.79" height="10.75" fill="#5aa0d8"/>
<rect x="52.59" y="685.05" width="10.79" height="10.75" fill="#d03025"/>
<rect x="63.08" y="685.05" width="10.79" height="10.75" fill="#c5ddf0"/>
<rect x="73.57" y="685.05" width="10.79" height="10.75" fill="#dd6a6a"/>
<rect x="84.06" y="685.05" width="10.79" height="10.75" fill="#f8fafc"/>
<rect x="94.55" y="685.05" width="10.79" height="10.75" fill="#e8a0a0"/>
<rect x="105.04" y="685.05" width="10.79" height="10.75" fill="#dd7070"/>
<rect x="115.53" y="685.05" width="10.79" height="10.75" fill="#e0ecf8"/>
<text x="0" y="0" font-size="9" textLength="15.9" lengthAdjust="spacingAndGlyphs" transform="translate(49.245,577.6) rotate(-90)">CTV</text>
<text x="0" y="0" font-size="9" textLength="17" lengthAdjust="spacingAndGlyphs" transform="translate(59.735,577.6) rotate(-90)">CD3</text>
<text x="0" y="0" font-size="9" textLength="17" lengthAdjust="spacingAndGlyphs" transform="translate(70.22500000000001,577.6) rotate(-90)">CD8</text>
<text x="0" y="0" font-size="9" textLength="21.1" lengthAdjust="spacingAndGlyphs" transform="translate(80.715,577.6) rotate(-90)">RAR<tspan font-family="Liberation Serif" font-size="10">α</tspan></text>
<text x="0" y="0" font-size="9" textLength="20.4" lengthAdjust="spacingAndGlyphs" transform="translate(91.20500000000001,577.6) rotate(-90)">T-bet</text>
<text x="0" y="0" font-size="9" textLength="22.9" lengthAdjust="spacingAndGlyphs" transform="translate(101.69500000000001,577.6) rotate(-90)">IL-23R</text>
<text x="0" y="0" font-size="9" transform="translate(112.185,577.6) rotate(-90)"><tspan font-family="Liberation Serif" font-size="10">β</tspan><tspan font-size="5.5" dy="1.8">7</tspan></text>
<text x="0" y="0" font-size="9" textLength="21.1" lengthAdjust="spacingAndGlyphs" transform="translate(122.67500000000001,577.6) rotate(-90)">CCR9</text>
<rect x="21.1" y="581.4" width="5.2" height="5.2" fill="#d62828" stroke="#111" stroke-width="1.2"/>
<rect x="21.1" y="591.4" width="5.2" height="5.2" fill="#f4b8d4" stroke="#111" stroke-width="1.2"/>
<rect x="21.1" y="602.2" width="5.2" height="5.2" fill="#9a70c0" stroke="#111" stroke-width="1.2"/>
<rect x="21.1" y="613.7" width="5.2" height="5.2" fill="#a0a0a0" stroke="#111" stroke-width="1.2"/>
<rect x="21.1" y="634.0" width="5.2" height="5.2" fill="#e070b8" stroke="#111" stroke-width="1.2"/>
<rect x="21.1" y="645.0" width="5.2" height="5.2" fill="#c0a8d0" stroke="#111" stroke-width="1.2"/>
<rect x="21.1" y="655.7" width="5.2" height="5.2" fill="#b8d4f0" stroke="#111" stroke-width="1.2"/>
<rect x="21.1" y="667.1" width="5.2" height="5.2" fill="#2878c0" stroke="#111" stroke-width="1.2"/>
<rect x="21.1" y="678.2" width="5.2" height="5.2" fill="#f09890" stroke="#111" stroke-width="1.2"/>
<rect x="21.1" y="688.8" width="5.2" height="5.2" fill="#d0b8e8" stroke="#111" stroke-width="1.2"/>
<text x="38.9" y="588.6" font-size="9" text-anchor="end">7</text>
<text x="38.9" y="598.6" font-size="9" text-anchor="end">9</text>
<text x="38.9" y="608.9" font-size="9" text-anchor="end">18</text>
<text x="38.9" y="619.7" font-size="9" text-anchor="end">23</text>
<text x="38.6" y="640.8" font-size="9" text-anchor="end">19</text>
<text x="38.6" y="651.6" font-size="9" text-anchor="end">22</text>
<text x="38.6" y="661.6" font-size="9" text-anchor="end">24</text>
<text x="38.6" y="672.2" font-size="9" text-anchor="end">4</text>
<text x="38.6" y="682.7" font-size="9" text-anchor="end">2</text>
<text x="38.6" y="693" font-size="9" text-anchor="end">11</text>
<text x="0" y="0" font-size="9.3" text-anchor="middle" textLength="43" lengthAdjust="spacingAndGlyphs" transform="translate(15.9,601.5) rotate(-90)">CD8 T-cells</text>
<text x="0" y="0" font-size="9.3" text-anchor="middle" textLength="43.3" lengthAdjust="spacingAndGlyphs" transform="translate(15.9,664.4) rotate(-90)">CD4 T-cells</text>
<text x="32" y="711" font-size="9.5" textLength="15.5" lengthAdjust="spacingAndGlyphs">Low</text>
<rect x="50.80" y="705.6" width="9.76" height="5.2999999999999545" fill="#2a78c4"/>
<rect x="60.26" y="705.6" width="9.76" height="5.2999999999999545" fill="#a8cbe8"/>
<rect x="69.71" y="705.6" width="9.76" height="5.2999999999999545" fill="#f6f9fc"/>
<rect x="79.17" y="705.6" width="9.76" height="5.2999999999999545" fill="#f6dcdc"/>
<rect x="88.63" y="705.6" width="9.76" height="5.2999999999999545" fill="#e8a4a6"/>
<rect x="98.09" y="705.6" width="9.76" height="5.2999999999999545" fill="#d04a48"/>
<rect x="107.54" y="705.6" width="9.76" height="5.2999999999999545" fill="#d03520"/>
<text x="120.6" y="711" font-size="9.5">Hi</text>
<text x="81.8" y="721.4" font-size="9.5" text-anchor="middle" textLength="39.5" lengthAdjust="spacingAndGlyphs">Expression</text>
<text x="143.6" y="555.5" font-size="12.5" style="fill:#000;stroke:#000" font-weight="bold">J</text>
<path class="ax" d="M182,579.5 V665 H268"/>
<path class="ax" d="M178.6,581.75 H182 M178.6,623.75 H182 M178.6,665 H182"/>
<path class="ax" d="M182.2,665 V668.4 M203,665 V668.4 M223.5,665 V668.4 M244.5,665 V668.4 M265.3,665 V668.4"/>
<text x="175.4" y="584.85" font-size="9" text-anchor="end">0.01</text>
<text x="175.4" y="626.85" font-size="9" text-anchor="end">0.1</text>
<text x="175.4" y="668.1" font-size="9" text-anchor="end">1</text>
<text x="182.2" y="677.6" font-size="9" text-anchor="middle">-10</text>
<text x="203" y="677.6" font-size="9" text-anchor="middle">-5</text>
<text x="223.5" y="677.6" font-size="9" text-anchor="middle">0</text>
<text x="244.5" y="677.6" font-size="9" text-anchor="middle">5</text>
<text x="265.3" y="677.6" font-size="9" text-anchor="middle">10</text>
<path d="M223.4,580.5 V665 M183.7,611.3 H265" stroke="#111" stroke-width="1.1" stroke-dasharray="2.6,2" fill="none"/>
<text x="0" y="0" font-size="10.5" text-anchor="middle" textLength="26" lengthAdjust="spacingAndGlyphs" transform="translate(153.5,622.1) rotate(-90)">P value</text>
<g stroke="#111" stroke-width="0.95"><circle cx="204.5" cy="590" r="3.3" fill="#b9cdf1"/><circle cx="255.5" cy="590" r="3.3" fill="#c8161e"/><circle cx="223.75" cy="628" r="3.3" fill="#bd6fb3"/><circle cx="217.5" cy="637.5" r="3.3" fill="#f2b3d3"/><circle cx="230.75" cy="637.5" r="3.3" fill="#3470b8"/><circle cx="211.25" cy="656.25" r="3.3" fill="#a394c4"/><circle cx="232.4" cy="657.6" r="3.3" fill="#d8cce8"/><circle cx="231.25" cy="658.5" r="3.3" fill="#c8b8e0"/><circle cx="215" cy="658.5" r="3.3" fill="#8452b0"/><circle cx="228.25" cy="663.4" r="3.3" fill="#f19484"/></g>
<text x="265.2" y="584.6" font-size="9" text-anchor="middle">7</text>
<text x="225.6" y="692.8" font-size="10" text-anchor="middle" textLength="43" lengthAdjust="spacingAndGlyphs">Fold change</text>
<text x="225.0" y="704.7" font-size="10" text-anchor="middle" textLength="82" lengthAdjust="spacingAndGlyphs">(Allo+ RA+LPS vs allo)</text>
<text x="286.8" y="555.5" font-size="12.5" style="fill:#000;stroke:#000" font-weight="bold">K</text>
<path class="ax" d="M316.3,578 V665 H365.6"/>
<path class="ax" d="M313.2,580.6 H316.3 M313.2,608.8 H316.3 M313.2,636.8 H316.3 M313.2,665 H316.3"/>
<text x="312" y="583.7" font-size="9" text-anchor="end">30</text>
<text x="312" y="611.9" font-size="9" text-anchor="end">20</text>
<text x="312" y="639.9" font-size="9" text-anchor="end">10</text>
<text x="312" y="668.1" font-size="9" text-anchor="end">0</text>
<text x="0" y="0" font-size="9.5" text-anchor="middle" textLength="83" lengthAdjust="spacingAndGlyphs" transform="translate(296.2,620.4) rotate(-90)">Cluster 7, % of live cells</text>
<path d="M327.1,576.8 H353.5 M327.1,571.6 V582 M353.5,571.6 V582" stroke="#555" stroke-width="1.1" fill="none"/>
<text x="340.2" y="577.9" font-size="9.5" text-anchor="middle" style="fill:#222;stroke:#222">*</text>
<line x1="319.4" y1="660.5" x2="338.5" y2="660.5" stroke="#111" stroke-width="1.2"/>
<line x1="343.1" y1="629.9" x2="363" y2="629.9" stroke="#111" stroke-width="1.2"/>
<g fill="#c92d2b" stroke="#111" stroke-width="0.95"><circle cx="328.8" cy="635.6" r="2.95"/><circle cx="328.8" cy="654.6" r="2.95"/><circle cx="326.2" cy="658.4" r="2.95"/><circle cx="331" cy="660.2" r="2.95"/><circle cx="323.3" cy="663.3" r="2.95"/><circle cx="328.8" cy="663.3" r="2.95"/><circle cx="333.6" cy="664.5" r="2.95"/><circle cx="353.2" cy="597.4" r="2.95"/><circle cx="348.3" cy="625.6" r="2.95"/><circle cx="358.2" cy="621.7" r="2.95"/><circle cx="358.2" cy="629.9" r="2.95"/><circle cx="353.2" cy="642.3" r="2.95"/><circle cx="348.3" cy="656.7" r="2.95"/><circle cx="358.2" cy="656.2" r="2.95"/></g>
<text x="287.3" y="680.1" font-size="9">Allo</text>
<text x="287.3" y="693.1" font-size="9" textLength="27.8" lengthAdjust="spacingAndGlyphs">RA 1<tspan font-family="Liberation Serif">µ</tspan>L</text>
<text x="287.3" y="705.7" font-size="9">LPS</text>
<text x="328.4" y="680.1" font-size="9" text-anchor="middle">+</text>
<text x="353.2" y="680.1" font-size="9" text-anchor="middle">+</text>
<text x="328.4" y="693.1" font-size="9" text-anchor="middle">-</text>
<text x="353.2" y="693.1" font-size="9" text-anchor="middle">+</text>
<text x="328.4" y="705.7" font-size="9" text-anchor="middle">-</text>
<text x="353.2" y="705.7" font-size="9" text-anchor="middle">+</text>
<text x="382.8" y="555.5" font-size="12.5" style="fill:#000;stroke:#000" font-weight="bold">L</text>
<text x="421.7" y="578" font-size="8.5" text-anchor="middle" textLength="26" lengthAdjust="spacingAndGlyphs" font-style="italic">In vitro</text>
<text x="457.6" y="578" font-size="8.5" text-anchor="middle" textLength="24.5" lengthAdjust="spacingAndGlyphs" font-style="italic">In vivo</text>
<text x="458.5" y="591.8" font-size="9" text-anchor="middle" textLength="16" lengthAdjust="spacingAndGlyphs">N/A</text>
<rect x="416.5" y="587.50" width="10.2" height="10.72" fill="#3a8ad0"/>
<rect x="416.5" y="597.92" width="10.2" height="10.72" fill="#d03a30"/>
<rect x="416.5" y="608.34" width="10.2" height="10.72" fill="#d03a30"/>
<rect x="416.5" y="618.76" width="10.2" height="10.72" fill="#dd7575"/>
<rect x="416.5" y="629.18" width="10.2" height="10.72" fill="#f2c9cb"/>
<rect x="416.5" y="639.60" width="10.2" height="10.72" fill="#eba9ab"/>
<rect x="416.5" y="650.02" width="10.2" height="10.72" fill="#d13c33"/>
<rect x="416.5" y="660.44" width="10.2" height="10.72" fill="#efb9bc"/>
<rect x="454.4" y="597.4" width="7.9" height="9.60" fill="#d03a30"/>
<rect x="454.4" y="607.7" width="7.9" height="8.90" fill="#e8aaaa"/>
<rect x="454.4" y="616.9" width="7.9" height="20.80" fill="#d54a45"/>
<rect x="454.4" y="638.5" width="7.9" height="9.20" fill="#f5dcdc"/>
<rect x="454.4" y="648" width="7.9" height="10.40" fill="#e08888"/>
<rect x="454.4" y="659.3" width="7.9" height="10.40" fill="#f3d3d6"/>
<text x="413" y="594.8" font-size="9" text-anchor="end" textLength="16.1" lengthAdjust="spacingAndGlyphs">CTV</text>
<text x="413" y="605.1" font-size="9" text-anchor="end" textLength="17" lengthAdjust="spacingAndGlyphs">CD3</text>
<text x="413" y="615.5" font-size="9" text-anchor="end" textLength="17" lengthAdjust="spacingAndGlyphs">CD8</text>
<text x="413" y="626.4" font-size="9" text-anchor="end" textLength="21.3" lengthAdjust="spacingAndGlyphs">RAR<tspan font-family="Liberation Serif" font-size="10">α</tspan></text>
<text x="413" y="636.3" font-size="9" text-anchor="end" textLength="19.2" lengthAdjust="spacingAndGlyphs">T-bet</text>
<text x="413" y="646.7" font-size="9" text-anchor="end" textLength="23" lengthAdjust="spacingAndGlyphs">IL-23R</text>
<text x="413" y="657.6" font-size="9" text-anchor="end"><tspan font-family="Liberation Serif" font-size="10">β</tspan><tspan font-size="5.5" dy="1.8">7</tspan></text>
<text x="413" y="667.4" font-size="9" text-anchor="end" textLength="21.3" lengthAdjust="spacingAndGlyphs">CCR9</text>
<text x="382.2" y="700.6" font-size="9.5" textLength="15.5" lengthAdjust="spacingAndGlyphs">Low</text>
<rect x="401.00" y="695.3" width="9.73" height="5.300000000000068" fill="#2a78c4"/>
<rect x="410.43" y="695.3" width="9.73" height="5.300000000000068" fill="#a8cbe8"/>
<rect x="419.86" y="695.3" width="9.73" height="5.300000000000068" fill="#f6f9fc"/>
<rect x="429.29" y="695.3" width="9.73" height="5.300000000000068" fill="#f6dcdc"/>
<rect x="438.71" y="695.3" width="9.73" height="5.300000000000068" fill="#e8a4a6"/>
<rect x="448.14" y="695.3" width="9.73" height="5.300000000000068" fill="#d04a48"/>
<rect x="457.57" y="695.3" width="9.73" height="5.300000000000068" fill="#d03520"/>
<text x="471.1" y="700.6" font-size="9.5">Hi</text>
<text x="432.6" y="711.4" font-size="9.5" text-anchor="middle" textLength="39.5" lengthAdjust="spacingAndGlyphs">Expression</text>
</g>
<path d="M0,0 H520 V733 H0 Z M1.1,1.1 V731.8 H518.8 V1.1 Z" fill="#000" fill-rule="evenodd"/>
</svg>
</body></html>
